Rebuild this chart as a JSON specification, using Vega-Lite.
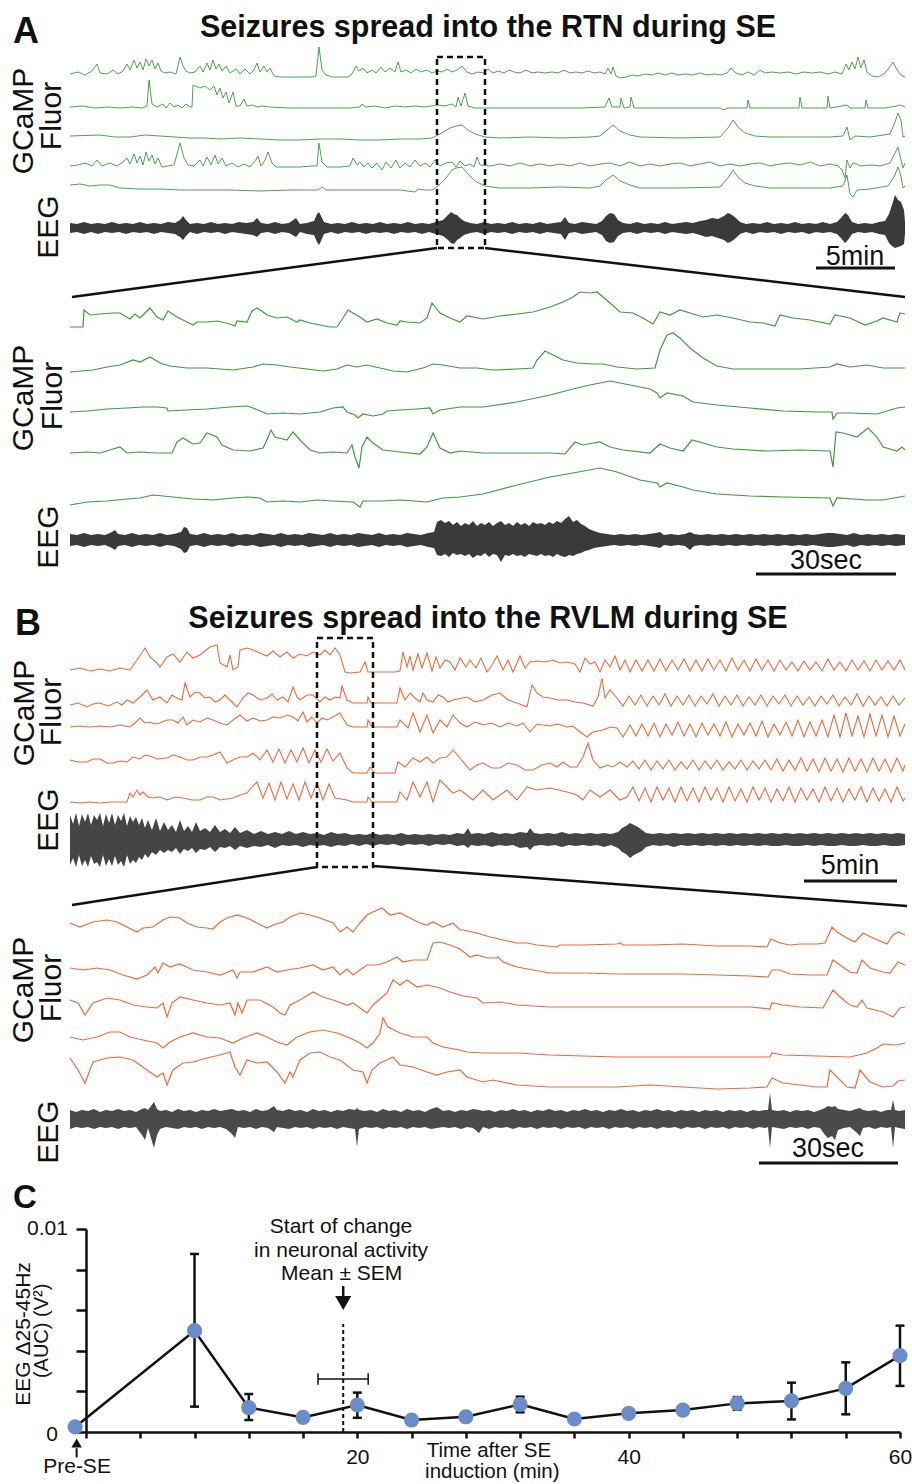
{
"$schema": "https://vega.github.io/schema/vega-lite/v6.json",
"padding": {"left": 9, "top": 0, "right": 0, "bottom": 0},
"spacing": 0,
"bounds": "flush",
"config": {"view": {"stroke": null}, "font": "Liberation Sans"},
"datasets": {
"a1": [
{"k":1,"x":0,"y":226},{"k":1,"x":8,"y":228},{"k":1,"x":15,"y":225},{"k":1,"x":22,"y":229},{"k":1,"x":27,"y":236},{"k":1,"x":30,"y":227},{"k":1,"x":37,"y":226},{"k":1,"x":43,"y":230},{"k":1,"x":48,"y":226},{"k":1,"x":53,"y":229},{"k":1,"x":57,"y":236},{"k":1,"x":60,"y":230},{"k":1,"x":64,"y":240},{"k":1,"x":67,"y":232},{"k":1,"x":70,"y":238},{"k":1,"x":73,"y":230},{"k":1,"x":76,"y":241},{"k":1,"x":79,"y":234},{"k":1,"x":82,"y":240},{"k":1,"x":85,"y":231},{"k":1,"x":88,"y":237},{"k":1,"x":91,"y":229},{"k":1,"x":95,"y":227},{"k":1,"x":100,"y":228},{"k":1,"x":106,"y":226},{"k":1,"x":110,"y":243},{"k":1,"x":113,"y":234},{"k":1,"x":116,"y":229},{"k":1,"x":120,"y":227},{"k":1,"x":125,"y":228},{"k":1,"x":130,"y":234},{"k":1,"x":133,"y":228},{"k":1,"x":137,"y":237},{"k":1,"x":140,"y":230},{"k":1,"x":143,"y":240},{"k":1,"x":146,"y":231},{"k":1,"x":149,"y":236},{"k":1,"x":152,"y":229},{"k":1,"x":156,"y":234},{"k":1,"x":160,"y":227},{"k":1,"x":166,"y":231},{"k":1,"x":170,"y":226},{"k":1,"x":175,"y":231},{"k":1,"x":180,"y":226},{"k":1,"x":184,"y":230},{"k":1,"x":187,"y":237},{"k":1,"x":190,"y":228},{"k":1,"x":194,"y":234},{"k":1,"x":197,"y":228},{"k":1,"x":200,"y":232},{"k":1,"x":204,"y":224},{"k":1,"x":210,"y":223},{"k":1,"x":220,"y":223},{"k":1,"x":230,"y":223},{"k":1,"x":240,"y":223},{"k":1,"x":246,"y":224},{"k":1,"x":249,"y":253},{"k":1,"x":252,"y":230},{"k":1,"x":256,"y":225},{"k":1,"x":262,"y":223},{"k":1,"x":270,"y":223},{"k":1,"x":278,"y":223},{"k":1,"x":282,"y":226},{"k":1,"x":286,"y":234},{"k":1,"x":289,"y":229},{"k":1,"x":293,"y":232},{"k":1,"x":297,"y":227},{"k":1,"x":302,"y":230},{"k":1,"x":306,"y":227},{"k":1,"x":311,"y":233},{"k":1,"x":315,"y":228},{"k":1,"x":320,"y":232},{"k":1,"x":325,"y":228},{"k":1,"x":328,"y":238},{"k":1,"x":331,"y":228},{"k":1,"x":336,"y":230},{"k":1,"x":341,"y":227},{"k":1,"x":346,"y":231},{"k":1,"x":351,"y":228},{"k":1,"x":357,"y":230},{"k":1,"x":362,"y":227},{"k":1,"x":367,"y":229},{"k":1,"x":372,"y":228},{"k":1,"x":377,"y":231},{"k":1,"x":382,"y":228},{"k":1,"x":387,"y":230},{"k":1,"x":392,"y":234},{"k":1,"x":397,"y":228},{"k":1,"x":402,"y":226},{"k":1,"x":408,"y":228},{"k":1,"x":414,"y":227},{"k":1,"x":418,"y":231},{"k":1,"x":423,"y":227},{"k":1,"x":428,"y":229},{"k":1,"x":434,"y":227},{"k":1,"x":439,"y":230},{"k":1,"x":444,"y":228},{"k":1,"x":450,"y":227},{"k":1,"x":456,"y":230},{"k":1,"x":462,"y":227},{"k":1,"x":468,"y":228},{"k":1,"x":475,"y":227},{"k":1,"x":482,"y":228},{"k":1,"x":488,"y":227},{"k":1,"x":494,"y":230},{"k":1,"x":500,"y":227},{"k":1,"x":506,"y":228},{"k":1,"x":512,"y":227},{"k":1,"x":518,"y":229},{"k":1,"x":524,"y":227},{"k":1,"x":530,"y":228},{"k":1,"x":535,"y":226},{"k":1,"x":538,"y":232},{"k":1,"x":541,"y":226},{"k":1,"x":543,"y":233},{"k":1,"x":546,"y":224},{"k":1,"x":550,"y":222},{"k":1,"x":556,"y":223},{"k":1,"x":562,"y":225},{"k":1,"x":568,"y":224},{"k":1,"x":575,"y":226},{"k":1,"x":582,"y":225},{"k":1,"x":588,"y":227},{"k":1,"x":595,"y":225},{"k":1,"x":602,"y":227},{"k":1,"x":608,"y":225},{"k":1,"x":615,"y":226},{"k":1,"x":622,"y":225},{"k":1,"x":630,"y":227},{"k":1,"x":637,"y":225},{"k":1,"x":644,"y":226},{"k":1,"x":651,"y":225},{"k":1,"x":657,"y":227},{"k":1,"x":661,"y":232},{"k":1,"x":666,"y":227},{"k":1,"x":672,"y":225},{"k":1,"x":678,"y":228},{"k":1,"x":684,"y":225},{"k":1,"x":690,"y":230},{"k":1,"x":695,"y":227},{"k":1,"x":702,"y":228},{"k":1,"x":710,"y":227},{"k":1,"x":718,"y":228},{"k":1,"x":726,"y":226},{"k":1,"x":734,"y":228},{"k":1,"x":742,"y":227},{"k":1,"x":750,"y":228},{"k":1,"x":758,"y":226},{"k":1,"x":765,"y":228},{"k":1,"x":772,"y":226},{"k":1,"x":776,"y":236},{"k":1,"x":779,"y":230},{"k":1,"x":782,"y":238},{"k":1,"x":785,"y":231},{"k":1,"x":788,"y":243},{"k":1,"x":791,"y":232},{"k":1,"x":794,"y":240},{"k":1,"x":797,"y":228},{"k":1,"x":802,"y":224},{"k":1,"x":808,"y":223},{"k":1,"x":814,"y":226},{"k":1,"x":819,"y":232},{"k":1,"x":823,"y":238},{"k":1,"x":827,"y":230},{"k":1,"x":831,"y":225},{"k":1,"x":835,"y":223},
{"k":2,"x":0,"y":193},{"k":2,"x":12,"y":194},{"k":2,"x":25,"y":192},{"k":2,"x":38,"y":193},{"k":2,"x":50,"y":192},{"k":2,"x":62,"y":193},{"k":2,"x":72,"y":192},{"k":2,"x":77,"y":194},{"k":2,"x":79,"y":220},{"k":2,"x":82,"y":196},{"k":2,"x":87,"y":193},{"k":2,"x":93,"y":196},{"k":2,"x":96,"y":192},{"k":2,"x":100,"y":197},{"k":2,"x":104,"y":193},{"k":2,"x":108,"y":195},{"k":2,"x":112,"y":192},{"k":2,"x":116,"y":196},{"k":2,"x":120,"y":193},{"k":2,"x":122,"y":193},{"k":2,"x":123,"y":215},{"k":2,"x":130,"y":212},{"k":2,"x":135,"y":214},{"k":2,"x":140,"y":210},{"k":2,"x":144,"y":214},{"k":2,"x":147,"y":205},{"k":2,"x":150,"y":212},{"k":2,"x":153,"y":202},{"k":2,"x":156,"y":208},{"k":2,"x":159,"y":197},{"k":2,"x":163,"y":208},{"k":2,"x":166,"y":194},{"k":2,"x":170,"y":194},{"k":2,"x":174,"y":201},{"k":2,"x":177,"y":194},{"k":2,"x":182,"y":195},{"k":2,"x":188,"y":193},{"k":2,"x":192,"y":194},{"k":2,"x":200,"y":193},{"k":2,"x":220,"y":192},{"k":2,"x":250,"y":192},{"k":2,"x":280,"y":192},{"k":2,"x":290,"y":193},{"k":2,"x":292,"y":196},{"k":2,"x":296,"y":193},{"k":2,"x":305,"y":194},{"k":2,"x":315,"y":192},{"k":2,"x":325,"y":194},{"k":2,"x":335,"y":193},{"k":2,"x":345,"y":194},{"k":2,"x":355,"y":193},{"k":2,"x":367,"y":195},{"k":2,"x":375,"y":194},{"k":2,"x":382,"y":196},{"k":2,"x":386,"y":193},{"k":2,"x":388,"y":203},{"k":2,"x":391,"y":194},{"k":2,"x":395,"y":207},{"k":2,"x":398,"y":194},{"k":2,"x":405,"y":192},{"k":2,"x":430,"y":192},{"k":2,"x":470,"y":192},{"k":2,"x":510,"y":192},{"k":2,"x":535,"y":193},{"k":2,"x":539,"y":202},{"k":2,"x":542,"y":193},{"k":2,"x":550,"y":193},{"k":2,"x":551,"y":202},{"k":2,"x":554,"y":192},{"k":2,"x":560,"y":193},{"k":2,"x":561,"y":203},{"k":2,"x":564,"y":192},{"k":2,"x":610,"y":192},{"k":2,"x":650,"y":192},{"k":2,"x":653,"y":190},{"k":2,"x":658,"y":192},{"k":2,"x":677,"y":192},{"k":2,"x":678,"y":200},{"k":2,"x":680,"y":192},{"k":2,"x":729,"y":192},{"k":2,"x":730,"y":203},{"k":2,"x":732,"y":192},{"k":2,"x":757,"y":192},{"k":2,"x":758,"y":204},{"k":2,"x":760,"y":192},{"k":2,"x":777,"y":195},{"k":2,"x":780,"y":192},{"k":2,"x":795,"y":192},{"k":2,"x":796,"y":200},{"k":2,"x":798,"y":192},{"k":2,"x":815,"y":192},{"k":2,"x":827,"y":194},{"k":2,"x":830,"y":195},{"k":2,"x":835,"y":193},
{"k":3,"x":0,"y":164},{"k":3,"x":30,"y":165},{"k":3,"x":45,"y":163},{"k":3,"x":60,"y":163},{"k":3,"x":75,"y":165},{"k":3,"x":90,"y":164},{"k":3,"x":105,"y":163},{"k":3,"x":120,"y":162},{"k":3,"x":135,"y":162},{"k":3,"x":150,"y":161},{"k":3,"x":170,"y":162},{"k":3,"x":190,"y":161},{"k":3,"x":210,"y":160},{"k":3,"x":230,"y":160},{"k":3,"x":250,"y":161},{"k":3,"x":270,"y":161},{"k":3,"x":290,"y":160},{"k":3,"x":310,"y":160},{"k":3,"x":330,"y":161},{"k":3,"x":350,"y":161},{"k":3,"x":362,"y":162},{"k":3,"x":370,"y":166},{"k":3,"x":380,"y":172},{"k":3,"x":386,"y":174},{"k":3,"x":392,"y":175},{"k":3,"x":398,"y":170},{"k":3,"x":405,"y":166},{"k":3,"x":415,"y":163},{"k":3,"x":430,"y":162},{"k":3,"x":460,"y":163},{"k":3,"x":490,"y":162},{"k":3,"x":520,"y":163},{"k":3,"x":530,"y":164},{"k":3,"x":536,"y":169},{"k":3,"x":543,"y":175},{"k":3,"x":550,"y":169},{"k":3,"x":560,"y":165},{"k":3,"x":570,"y":163},{"k":3,"x":610,"y":162},{"k":3,"x":650,"y":163},{"k":3,"x":658,"y":172},{"k":3,"x":663,"y":180},{"k":3,"x":668,"y":173},{"k":3,"x":675,"y":167},{"k":3,"x":685,"y":164},{"k":3,"x":700,"y":163},{"k":3,"x":730,"y":163},{"k":3,"x":760,"y":163},{"k":3,"x":773,"y":164},{"k":3,"x":777,"y":173},{"k":3,"x":780,"y":160},{"k":3,"x":785,"y":164},{"k":3,"x":800,"y":163},{"k":3,"x":820,"y":166},{"k":3,"x":825,"y":178},{"k":3,"x":828,"y":187},{"k":3,"x":831,"y":180},{"k":3,"x":833,"y":163},{"k":3,"x":835,"y":164},
{"k":4,"x":0,"y":134},{"k":4,"x":8,"y":135},{"k":4,"x":15,"y":137},{"k":4,"x":22,"y":134},{"k":4,"x":27,"y":140},{"k":4,"x":32,"y":134},{"k":4,"x":40,"y":137},{"k":4,"x":47,"y":134},{"k":4,"x":53,"y":138},{"k":4,"x":57,"y":142},{"k":4,"x":60,"y":136},{"k":4,"x":64,"y":146},{"k":4,"x":67,"y":137},{"k":4,"x":70,"y":144},{"k":4,"x":73,"y":135},{"k":4,"x":76,"y":148},{"k":4,"x":79,"y":139},{"k":4,"x":82,"y":145},{"k":4,"x":85,"y":136},{"k":4,"x":88,"y":142},{"k":4,"x":92,"y":133},{"k":4,"x":98,"y":134},{"k":4,"x":104,"y":135},{"k":4,"x":110,"y":157},{"k":4,"x":114,"y":142},{"k":4,"x":118,"y":135},{"k":4,"x":124,"y":134},{"k":4,"x":130,"y":140},{"k":4,"x":133,"y":134},{"k":4,"x":137,"y":143},{"k":4,"x":141,"y":135},{"k":4,"x":145,"y":145},{"k":4,"x":148,"y":136},{"k":4,"x":152,"y":142},{"k":4,"x":156,"y":134},{"k":4,"x":162,"y":137},{"k":4,"x":168,"y":133},{"k":4,"x":174,"y":136},{"k":4,"x":180,"y":133},{"k":4,"x":185,"y":139},{"k":4,"x":188,"y":144},{"k":4,"x":191,"y":134},{"k":4,"x":195,"y":140},{"k":4,"x":198,"y":148},{"k":4,"x":202,"y":137},{"k":4,"x":206,"y":133},{"k":4,"x":215,"y":133},{"k":4,"x":230,"y":133},{"k":4,"x":242,"y":134},{"k":4,"x":247,"y":134},{"k":4,"x":249,"y":157},{"k":4,"x":252,"y":138},{"k":4,"x":257,"y":133},{"k":4,"x":270,"y":133},{"k":4,"x":280,"y":134},{"k":4,"x":283,"y":142},{"k":4,"x":287,"y":135},{"k":4,"x":290,"y":138},{"k":4,"x":294,"y":133},{"k":4,"x":298,"y":137},{"k":4,"x":302,"y":132},{"k":4,"x":307,"y":137},{"k":4,"x":312,"y":130},{"k":4,"x":316,"y":138},{"k":4,"x":321,"y":132},{"k":4,"x":326,"y":140},{"k":4,"x":330,"y":132},{"k":4,"x":335,"y":137},{"k":4,"x":340,"y":133},{"k":4,"x":345,"y":140},{"k":4,"x":350,"y":134},{"k":4,"x":355,"y":137},{"k":4,"x":360,"y":133},{"k":4,"x":365,"y":140},{"k":4,"x":370,"y":134},{"k":4,"x":376,"y":137},{"k":4,"x":382,"y":138},{"k":4,"x":386,"y":133},{"k":4,"x":390,"y":139},{"k":4,"x":395,"y":134},{"k":4,"x":400,"y":136},{"k":4,"x":404,"y":133},{"k":4,"x":407,"y":143},{"k":4,"x":410,"y":135},{"k":4,"x":420,"y":134},{"k":4,"x":430,"y":136},{"k":4,"x":440,"y":134},{"k":4,"x":450,"y":137},{"k":4,"x":460,"y":134},{"k":4,"x":470,"y":136},{"k":4,"x":480,"y":134},{"k":4,"x":490,"y":136},{"k":4,"x":500,"y":134},{"k":4,"x":510,"y":137},{"k":4,"x":520,"y":134},{"k":4,"x":530,"y":136},{"k":4,"x":540,"y":137},{"k":4,"x":550,"y":134},{"k":4,"x":560,"y":138},{"k":4,"x":570,"y":134},{"k":4,"x":580,"y":136},{"k":4,"x":590,"y":134},{"k":4,"x":600,"y":136},{"k":4,"x":610,"y":137},{"k":4,"x":620,"y":134},{"k":4,"x":630,"y":136},{"k":4,"x":640,"y":138},{"k":4,"x":650,"y":134},{"k":4,"x":660,"y":136},{"k":4,"x":670,"y":134},{"k":4,"x":680,"y":136},{"k":4,"x":690,"y":137},{"k":4,"x":700,"y":134},{"k":4,"x":710,"y":136},{"k":4,"x":720,"y":137},{"k":4,"x":730,"y":135},{"k":4,"x":740,"y":138},{"k":4,"x":750,"y":134},{"k":4,"x":760,"y":136},{"k":4,"x":768,"y":134},{"k":4,"x":772,"y":130},{"k":4,"x":775,"y":122},{"k":4,"x":777,"y":140},{"k":4,"x":780,"y":132},{"k":4,"x":783,"y":137},{"k":4,"x":787,"y":136},{"k":4,"x":790,"y":134},{"k":4,"x":800,"y":135},{"k":4,"x":810,"y":134},{"k":4,"x":820,"y":137},{"k":4,"x":825,"y":147},{"k":4,"x":828,"y":153},{"k":4,"x":831,"y":140},{"k":4,"x":833,"y":132},{"k":4,"x":835,"y":137},
{"k":5,"x":0,"y":115},{"k":5,"x":10,"y":116},{"k":5,"x":20,"y":114},{"k":5,"x":30,"y":115},{"k":5,"x":40,"y":115},{"k":5,"x":50,"y":112},{"k":5,"x":70,"y":111},{"k":5,"x":90,"y":111},{"k":5,"x":110,"y":110},{"k":5,"x":130,"y":110},{"k":5,"x":160,"y":110},{"k":5,"x":190,"y":109},{"k":5,"x":220,"y":110},{"k":5,"x":240,"y":110},{"k":5,"x":248,"y":110},{"k":5,"x":252,"y":113},{"k":5,"x":256,"y":110},{"k":5,"x":270,"y":110},{"k":5,"x":300,"y":110},{"k":5,"x":330,"y":110},{"k":5,"x":345,"y":108},{"k":5,"x":348,"y":111},{"k":5,"x":355,"y":110},{"k":5,"x":362,"y":110},{"k":5,"x":368,"y":114},{"k":5,"x":376,"y":122},{"k":5,"x":382,"y":130},{"k":5,"x":386,"y":132},{"k":5,"x":392,"y":133},{"k":5,"x":398,"y":126},{"k":5,"x":405,"y":119},{"k":5,"x":415,"y":114},{"k":5,"x":430,"y":112},{"k":5,"x":460,"y":112},{"k":5,"x":490,"y":113},{"k":5,"x":520,"y":112},{"k":5,"x":530,"y":114},{"k":5,"x":536,"y":120},{"k":5,"x":543,"y":125},{"k":5,"x":550,"y":119},{"k":5,"x":560,"y":115},{"k":5,"x":570,"y":112},{"k":5,"x":610,"y":112},{"k":5,"x":650,"y":113},{"k":5,"x":658,"y":122},{"k":5,"x":663,"y":130},{"k":5,"x":668,"y":123},{"k":5,"x":675,"y":117},{"k":5,"x":685,"y":114},{"k":5,"x":700,"y":112},{"k":5,"x":730,"y":112},{"k":5,"x":760,"y":112},{"k":5,"x":773,"y":114},{"k":5,"x":777,"y":125},{"k":5,"x":780,"y":106},{"k":5,"x":783,"y":103},{"k":5,"x":787,"y":110},{"k":5,"x":800,"y":111},{"k":5,"x":818,"y":114},{"k":5,"x":825,"y":125},{"k":5,"x":828,"y":133},{"k":5,"x":831,"y":124},{"k":5,"x":833,"y":112},{"k":5,"x":835,"y":114}
],
"a1e": [
{"x":0,"h":77,"l":67},{"x":7,"h":76,"l":68},{"x":14,"h":78,"l":66},{"x":21,"h":76,"l":68},{"x":28,"h":77,"l":66},{"x":35,"h":76,"l":68},{"x":42,"h":78,"l":67},{"x":49,"h":76,"l":68},{"x":56,"h":77,"l":66},{"x":63,"h":76,"l":68},{"x":70,"h":78,"l":67},{"x":77,"h":76,"l":68},{"x":84,"h":77,"l":66},{"x":91,"h":76,"l":68},{"x":98,"h":78,"l":67},{"x":105,"h":77,"l":66},{"x":110,"h":80,"l":63},{"x":113,"h":84,"l":60},{"x":116,"h":80,"l":64},{"x":120,"h":76,"l":68},{"x":127,"h":77,"l":66},{"x":134,"h":76,"l":68},{"x":141,"h":78,"l":67},{"x":148,"h":76,"l":68},{"x":155,"h":77,"l":66},{"x":162,"h":76,"l":68},{"x":169,"h":78,"l":67},{"x":176,"h":77,"l":66},{"x":183,"h":78,"l":65},{"x":187,"h":82,"l":63},{"x":191,"h":77,"l":67},{"x":198,"h":76,"l":68},{"x":205,"h":78,"l":66},{"x":212,"h":76,"l":68},{"x":219,"h":77,"l":67},{"x":226,"h":82,"l":63},{"x":230,"h":76,"l":68},{"x":237,"h":77,"l":66},{"x":244,"h":79,"l":65},{"x":247,"h":86,"l":58},{"x":249,"h":88,"l":55},{"x":251,"h":84,"l":59},{"x":254,"h":78,"l":66},{"x":261,"h":76,"l":68},{"x":268,"h":77,"l":66},{"x":275,"h":76,"l":68},{"x":282,"h":78,"l":67},{"x":289,"h":76,"l":68},{"x":296,"h":77,"l":66},{"x":303,"h":76,"l":68},{"x":310,"h":78,"l":67},{"x":317,"h":76,"l":68},{"x":324,"h":77,"l":66},{"x":331,"h":76,"l":68},{"x":338,"h":78,"l":67},{"x":345,"h":76,"l":68},{"x":352,"h":77,"l":66},{"x":359,"h":76,"l":68},{"x":366,"h":78,"l":66},{"x":373,"h":80,"l":64},{"x":378,"h":85,"l":60},{"x":381,"h":88,"l":57},{"x":384,"h":86,"l":56},{"x":387,"h":85,"l":60},{"x":390,"h":82,"l":62},{"x":394,"h":79,"l":65},{"x":400,"h":77,"l":67},{"x":407,"h":76,"l":68},{"x":414,"h":78,"l":66},{"x":421,"h":76,"l":68},{"x":428,"h":77,"l":67},{"x":435,"h":76,"l":68},{"x":442,"h":78,"l":66},{"x":449,"h":76,"l":68},{"x":456,"h":77,"l":67},{"x":463,"h":76,"l":68},{"x":470,"h":78,"l":66},{"x":477,"h":76,"l":68},{"x":484,"h":77,"l":67},{"x":491,"h":78,"l":66},{"x":495,"h":83,"l":60},{"x":499,"h":77,"l":67},{"x":505,"h":76,"l":68},{"x":512,"h":78,"l":66},{"x":519,"h":77,"l":67},{"x":526,"h":76,"l":68},{"x":532,"h":79,"l":65},{"x":536,"h":84,"l":59},{"x":540,"h":87,"l":57},{"x":544,"h":86,"l":58},{"x":548,"h":80,"l":64},{"x":553,"h":77,"l":67},{"x":560,"h":76,"l":68},{"x":567,"h":78,"l":66},{"x":574,"h":76,"l":68},{"x":581,"h":77,"l":67},{"x":588,"h":76,"l":68},{"x":595,"h":78,"l":66},{"x":602,"h":76,"l":68},{"x":609,"h":77,"l":67},{"x":616,"h":78,"l":66},{"x":623,"h":77,"l":67},{"x":630,"h":79,"l":65},{"x":636,"h":80,"l":63},{"x":642,"h":82,"l":64},{"x":648,"h":81,"l":62},{"x":654,"h":84,"l":60},{"x":658,"h":87,"l":57},{"x":662,"h":85,"l":59},{"x":666,"h":82,"l":62},{"x":670,"h":78,"l":66},{"x":676,"h":76,"l":68},{"x":683,"h":77,"l":66},{"x":690,"h":76,"l":68},{"x":697,"h":78,"l":67},{"x":704,"h":76,"l":68},{"x":711,"h":77,"l":66},{"x":718,"h":76,"l":68},{"x":725,"h":78,"l":67},{"x":732,"h":76,"l":68},{"x":739,"h":77,"l":66},{"x":746,"h":76,"l":68},{"x":753,"h":78,"l":67},{"x":760,"h":76,"l":68},{"x":767,"h":78,"l":66},{"x":771,"h":82,"l":62},{"x":775,"h":87,"l":57},{"x":778,"h":85,"l":60},{"x":782,"h":78,"l":66},{"x":788,"h":76,"l":68},{"x":795,"h":77,"l":67},{"x":802,"h":76,"l":68},{"x":809,"h":78,"l":66},{"x":815,"h":79,"l":65},{"x":819,"h":86,"l":57},{"x":822,"h":95,"l":54},{"x":825,"h":105,"l":52},{"x":828,"h":100,"l":53},{"x":831,"h":98,"l":54},{"x":834,"h":90,"l":56},{"x":835,"h":78,"l":66}
],
"a2": [
{"k":1,"x":0,"y":273},{"k":1,"x":13,"y":273},{"k":1,"x":14,"y":290},{"k":1,"x":20,"y":285},{"k":1,"x":30,"y":286},{"k":1,"x":43,"y":287},{"k":1,"x":50,"y":287},{"k":1,"x":60,"y":281},{"k":1,"x":65,"y":286},{"k":1,"x":70,"y":282},{"k":1,"x":80,"y":292},{"k":1,"x":87,"y":283},{"k":1,"x":93,"y":280},{"k":1,"x":98,"y":289},{"k":1,"x":107,"y":283},{"k":1,"x":117,"y":278},{"k":1,"x":123,"y":275},{"k":1,"x":127,"y":278},{"k":1,"x":137,"y":278},{"k":1,"x":147,"y":279},{"k":1,"x":160,"y":276},{"k":1,"x":165,"y":274},{"k":1,"x":167,"y":279},{"k":1,"x":177,"y":278},{"k":1,"x":182,"y":289},{"k":1,"x":187,"y":292},{"k":1,"x":193,"y":288},{"k":1,"x":197,"y":285},{"k":1,"x":207,"y":282},{"k":1,"x":217,"y":283},{"k":1,"x":227,"y":278},{"k":1,"x":230,"y":280},{"k":1,"x":240,"y":277},{"k":1,"x":250,"y":275},{"k":1,"x":260,"y":273},{"k":1,"x":267,"y":273},{"k":1,"x":273,"y":282},{"k":1,"x":278,"y":290},{"k":1,"x":283,"y":287},{"k":1,"x":290,"y":283},{"k":1,"x":297,"y":278},{"k":1,"x":307,"y":281},{"k":1,"x":317,"y":277},{"k":1,"x":327,"y":275},{"k":1,"x":330,"y":279},{"k":1,"x":337,"y":278},{"k":1,"x":350,"y":277},{"k":1,"x":357,"y":282},{"k":1,"x":362,"y":297},{"k":1,"x":370,"y":287},{"k":1,"x":380,"y":282},{"k":1,"x":390,"y":278},{"k":1,"x":397,"y":284},{"k":1,"x":413,"y":281},{"k":1,"x":430,"y":284},{"k":1,"x":447,"y":286},{"k":1,"x":463,"y":288},{"k":1,"x":480,"y":293},{"k":1,"x":493,"y":298},{"k":1,"x":503,"y":303},{"k":1,"x":510,"y":308},{"k":1,"x":520,"y":307},{"k":1,"x":527,"y":308},{"k":1,"x":533,"y":303},{"k":1,"x":540,"y":297},{"k":1,"x":550,"y":288},{"k":1,"x":563,"y":287},{"k":1,"x":573,"y":282},{"k":1,"x":583,"y":276},{"k":1,"x":590,"y":288},{"k":1,"x":600,"y":285},{"k":1,"x":610,"y":290},{"k":1,"x":620,"y":287},{"k":1,"x":633,"y":283},{"k":1,"x":647,"y":285},{"k":1,"x":663,"y":282},{"k":1,"x":680,"y":278},{"k":1,"x":693,"y":277},{"k":1,"x":705,"y":274},{"k":1,"x":710,"y":285},{"k":1,"x":723,"y":282},{"k":1,"x":740,"y":280},{"k":1,"x":760,"y":276},{"k":1,"x":765,"y":285},{"k":1,"x":780,"y":282},{"k":1,"x":795,"y":275},{"k":1,"x":807,"y":279},{"k":1,"x":813,"y":282},{"k":1,"x":827,"y":278},{"k":1,"x":830,"y":287},{"k":1,"x":835,"y":286},
{"k":2,"x":0,"y":228},{"k":2,"x":23,"y":230},{"k":2,"x":37,"y":233},{"k":2,"x":50,"y":235},{"k":2,"x":63,"y":240},{"k":2,"x":70,"y":238},{"k":2,"x":80,"y":243},{"k":2,"x":90,"y":237},{"k":2,"x":100,"y":234},{"k":2,"x":117,"y":232},{"k":2,"x":137,"y":232},{"k":2,"x":150,"y":231},{"k":2,"x":163,"y":230},{"k":2,"x":183,"y":233},{"k":2,"x":193,"y":236},{"k":2,"x":207,"y":235},{"k":2,"x":220,"y":233},{"k":2,"x":237,"y":231},{"k":2,"x":253,"y":229},{"k":2,"x":267,"y":231},{"k":2,"x":277,"y":235},{"k":2,"x":287,"y":233},{"k":2,"x":297,"y":235},{"k":2,"x":310,"y":232},{"k":2,"x":323,"y":229},{"k":2,"x":337,"y":228},{"k":2,"x":353,"y":232},{"k":2,"x":363,"y":236},{"k":2,"x":373,"y":235},{"k":2,"x":390,"y":232},{"k":2,"x":407,"y":232},{"k":2,"x":423,"y":230},{"k":2,"x":447,"y":231},{"k":2,"x":463,"y":232},{"k":2,"x":467,"y":240},{"k":2,"x":475,"y":249},{"k":2,"x":483,"y":245},{"k":2,"x":493,"y":240},{"k":2,"x":507,"y":237},{"k":2,"x":523,"y":236},{"k":2,"x":533,"y":236},{"k":2,"x":547,"y":233},{"k":2,"x":567,"y":231},{"k":2,"x":585,"y":232},{"k":2,"x":590,"y":250},{"k":2,"x":597,"y":265},{"k":2,"x":603,"y":267},{"k":2,"x":610,"y":262},{"k":2,"x":620,"y":252},{"k":2,"x":633,"y":242},{"k":2,"x":647,"y":234},{"k":2,"x":663,"y":231},{"k":2,"x":697,"y":231},{"k":2,"x":730,"y":231},{"k":2,"x":760,"y":233},{"k":2,"x":767,"y":236},{"k":2,"x":780,"y":233},{"k":2,"x":797,"y":235},{"k":2,"x":813,"y":232},{"k":2,"x":835,"y":232},
{"k":3,"x":0,"y":188},{"k":3,"x":17,"y":189},{"k":3,"x":37,"y":191},{"k":3,"x":57,"y":192},{"k":3,"x":73,"y":193},{"k":3,"x":87,"y":193},{"k":3,"x":97,"y":192},{"k":3,"x":98,"y":189},{"k":3,"x":117,"y":190},{"k":3,"x":137,"y":191},{"k":3,"x":160,"y":193},{"k":3,"x":177,"y":194},{"k":3,"x":183,"y":192},{"k":3,"x":197,"y":186},{"k":3,"x":213,"y":187},{"k":3,"x":230,"y":186},{"k":3,"x":250,"y":188},{"k":3,"x":263,"y":192},{"k":3,"x":273,"y":193},{"k":3,"x":277,"y":188},{"k":3,"x":285,"y":185},{"k":3,"x":288,"y":182},{"k":3,"x":293,"y":186},{"k":3,"x":303,"y":184},{"k":3,"x":313,"y":186},{"k":3,"x":317,"y":189},{"k":3,"x":330,"y":190},{"k":3,"x":347,"y":191},{"k":3,"x":360,"y":192},{"k":3,"x":363,"y":186},{"k":3,"x":370,"y":190},{"k":3,"x":390,"y":193},{"k":3,"x":413,"y":193},{"k":3,"x":447,"y":198},{"k":3,"x":480,"y":205},{"k":3,"x":503,"y":211},{"k":3,"x":520,"y":215},{"k":3,"x":540,"y":219},{"k":3,"x":560,"y":215},{"k":3,"x":580,"y":211},{"k":3,"x":587,"y":207},{"k":3,"x":590,"y":202},{"k":3,"x":597,"y":207},{"k":3,"x":613,"y":204},{"k":3,"x":623,"y":198},{"k":3,"x":647,"y":195},{"k":3,"x":680,"y":192},{"k":3,"x":713,"y":189},{"k":3,"x":747,"y":188},{"k":3,"x":762,"y":188},{"k":3,"x":763,"y":181},{"k":3,"x":767,"y":187},{"k":3,"x":780,"y":187},{"k":3,"x":807,"y":186},{"k":3,"x":827,"y":192},{"k":3,"x":835,"y":193},
{"k":4,"x":0,"y":147},{"k":4,"x":17,"y":148},{"k":4,"x":30,"y":147},{"k":4,"x":43,"y":151},{"k":4,"x":50,"y":153},{"k":4,"x":57,"y":147},{"k":4,"x":70,"y":148},{"k":4,"x":87,"y":147},{"k":4,"x":102,"y":147},{"k":4,"x":107,"y":158},{"k":4,"x":113,"y":162},{"k":4,"x":123,"y":156},{"k":4,"x":130,"y":157},{"k":4,"x":137,"y":167},{"k":4,"x":147,"y":163},{"k":4,"x":152,"y":155},{"k":4,"x":163,"y":150},{"k":4,"x":180,"y":149},{"k":4,"x":193,"y":152},{"k":4,"x":196,"y":158},{"k":4,"x":201,"y":170},{"k":4,"x":205,"y":163},{"k":4,"x":217,"y":160},{"k":4,"x":223,"y":168},{"k":4,"x":230,"y":160},{"k":4,"x":240,"y":150},{"k":4,"x":250,"y":147},{"k":4,"x":263,"y":148},{"k":4,"x":277,"y":147},{"k":4,"x":282,"y":155},{"k":4,"x":285,"y":143},{"k":4,"x":289,"y":132},{"k":4,"x":292,"y":153},{"k":4,"x":297,"y":163},{"k":4,"x":303,"y":157},{"k":4,"x":313,"y":150},{"k":4,"x":330,"y":148},{"k":4,"x":350,"y":146},{"k":4,"x":357,"y":153},{"k":4,"x":363,"y":167},{"k":4,"x":370,"y":152},{"k":4,"x":380,"y":147},{"k":4,"x":390,"y":149},{"k":4,"x":413,"y":147},{"k":4,"x":447,"y":147},{"k":4,"x":480,"y":147},{"k":4,"x":495,"y":146},{"k":4,"x":505,"y":158},{"k":4,"x":513,"y":155},{"k":4,"x":530,"y":158},{"k":4,"x":540,"y":153},{"k":4,"x":553,"y":150},{"k":4,"x":580,"y":147},{"k":4,"x":590,"y":156},{"k":4,"x":600,"y":152},{"k":4,"x":613,"y":149},{"k":4,"x":622,"y":160},{"k":4,"x":633,"y":157},{"k":4,"x":647,"y":153},{"k":4,"x":663,"y":151},{"k":4,"x":697,"y":149},{"k":4,"x":730,"y":150},{"k":4,"x":760,"y":149},{"k":4,"x":763,"y":133},{"k":4,"x":766,"y":168},{"k":4,"x":773,"y":167},{"k":4,"x":787,"y":163},{"k":4,"x":798,"y":172},{"k":4,"x":807,"y":163},{"k":4,"x":813,"y":153},{"k":4,"x":827,"y":149},{"k":4,"x":832,"y":153},{"k":4,"x":835,"y":150},
{"k":5,"x":0,"y":95},{"k":5,"x":17,"y":98},{"k":5,"x":37,"y":99},{"k":5,"x":57,"y":101},{"k":5,"x":70,"y":102},{"k":5,"x":83,"y":105},{"k":5,"x":103,"y":103},{"k":5,"x":123,"y":101},{"k":5,"x":143,"y":100},{"k":5,"x":163,"y":102},{"k":5,"x":177,"y":103},{"k":5,"x":190,"y":102},{"k":5,"x":197,"y":98},{"k":5,"x":213,"y":99},{"k":5,"x":230,"y":98},{"k":5,"x":247,"y":100},{"k":5,"x":263,"y":99},{"k":5,"x":283,"y":98},{"k":5,"x":290,"y":93},{"k":5,"x":293,"y":99},{"k":5,"x":313,"y":99},{"k":5,"x":330,"y":100},{"k":5,"x":357,"y":98},{"k":5,"x":373,"y":102},{"k":5,"x":390,"y":103},{"k":5,"x":413,"y":106},{"k":5,"x":447,"y":115},{"k":5,"x":480,"y":123},{"k":5,"x":503,"y":127},{"k":5,"x":530,"y":132},{"k":5,"x":547,"y":128},{"k":5,"x":570,"y":120},{"k":5,"x":587,"y":117},{"k":5,"x":590,"y":113},{"k":5,"x":597,"y":117},{"k":5,"x":613,"y":113},{"k":5,"x":623,"y":110},{"k":5,"x":647,"y":106},{"k":5,"x":680,"y":104},{"k":5,"x":713,"y":103},{"k":5,"x":760,"y":102},{"k":5,"x":763,"y":94},{"k":5,"x":767,"y":102},{"k":5,"x":797,"y":100},{"k":5,"x":813,"y":100},{"k":5,"x":835,"y":104}
],
"a2e": [
{"x":0,"h":66,"l":54},{"x":7,"h":65,"l":55},{"x":14,"h":67,"l":53},{"x":21,"h":65,"l":55},{"x":28,"h":66,"l":54},{"x":35,"h":65,"l":55},{"x":42,"h":68,"l":52},{"x":45,"h":70,"l":50},{"x":48,"h":66,"l":54},{"x":55,"h":65,"l":55},{"x":62,"h":67,"l":53},{"x":69,"h":65,"l":55},{"x":76,"h":66,"l":54},{"x":83,"h":65,"l":55},{"x":90,"h":67,"l":53},{"x":97,"h":65,"l":55},{"x":104,"h":66,"l":54},{"x":111,"h":68,"l":51},{"x":114,"h":73,"l":47},{"x":117,"h":72,"l":48},{"x":120,"h":66,"l":54},{"x":127,"h":65,"l":55},{"x":134,"h":67,"l":53},{"x":141,"h":65,"l":55},{"x":148,"h":66,"l":54},{"x":155,"h":65,"l":55},{"x":162,"h":67,"l":53},{"x":169,"h":65,"l":55},{"x":176,"h":66,"l":54},{"x":183,"h":65,"l":55},{"x":190,"h":67,"l":53},{"x":197,"h":66,"l":54},{"x":204,"h":65,"l":55},{"x":211,"h":67,"l":53},{"x":218,"h":65,"l":55},{"x":225,"h":66,"l":54},{"x":232,"h":65,"l":55},{"x":239,"h":67,"l":53},{"x":246,"h":66,"l":54},{"x":253,"h":65,"l":55},{"x":260,"h":67,"l":53},{"x":267,"h":65,"l":55},{"x":274,"h":66,"l":54},{"x":281,"h":65,"l":55},{"x":288,"h":67,"l":53},{"x":295,"h":66,"l":54},{"x":302,"h":65,"l":55},{"x":309,"h":67,"l":53},{"x":316,"h":65,"l":55},{"x":323,"h":66,"l":54},{"x":330,"h":65,"l":55},{"x":337,"h":67,"l":53},{"x":344,"h":66,"l":54},{"x":351,"h":65,"l":55},{"x":358,"h":67,"l":53},{"x":364,"h":68,"l":52},{"x":367,"h":78,"l":45},{"x":371,"h":80,"l":44},{"x":375,"h":77,"l":46},{"x":379,"h":79,"l":43},{"x":383,"h":75,"l":47},{"x":387,"h":78,"l":45},{"x":391,"h":74,"l":46},{"x":395,"h":77,"l":44},{"x":399,"h":75,"l":46},{"x":403,"h":79,"l":42},{"x":407,"h":74,"l":45},{"x":411,"h":77,"l":44},{"x":415,"h":75,"l":47},{"x":419,"h":78,"l":43},{"x":423,"h":74,"l":46},{"x":427,"h":77,"l":45},{"x":431,"h":79,"l":38},{"x":435,"h":75,"l":45},{"x":439,"h":77,"l":44},{"x":443,"h":74,"l":46},{"x":447,"h":78,"l":44},{"x":451,"h":75,"l":45},{"x":455,"h":77,"l":43},{"x":459,"h":74,"l":46},{"x":463,"h":78,"l":45},{"x":467,"h":76,"l":44},{"x":471,"h":77,"l":46},{"x":475,"h":75,"l":44},{"x":479,"h":78,"l":45},{"x":483,"h":76,"l":43},{"x":487,"h":79,"l":46},{"x":491,"h":77,"l":44},{"x":495,"h":81,"l":43},{"x":499,"h":84,"l":45},{"x":503,"h":78,"l":44},{"x":507,"h":80,"l":46},{"x":511,"h":76,"l":47},{"x":515,"h":74,"l":49},{"x":519,"h":71,"l":50},{"x":524,"h":69,"l":52},{"x":530,"h":67,"l":53},{"x":537,"h":66,"l":54},{"x":544,"h":65,"l":55},{"x":551,"h":66,"l":54},{"x":558,"h":65,"l":55},{"x":565,"h":66,"l":54},{"x":572,"h":65,"l":55},{"x":579,"h":66,"l":54},{"x":586,"h":67,"l":53},{"x":590,"h":68,"l":52},{"x":594,"h":65,"l":55},{"x":601,"h":66,"l":54},{"x":608,"h":65,"l":55},{"x":615,"h":66,"l":54},{"x":620,"h":68,"l":50},{"x":624,"h":66,"l":54},{"x":631,"h":65,"l":55},{"x":638,"h":66,"l":54},{"x":645,"h":65,"l":55},{"x":652,"h":66,"l":54},{"x":659,"h":65,"l":55},{"x":666,"h":66,"l":54},{"x":673,"h":65,"l":55},{"x":680,"h":66,"l":54},{"x":687,"h":65,"l":55},{"x":694,"h":66,"l":54},{"x":701,"h":65,"l":55},{"x":708,"h":66,"l":54},{"x":715,"h":65,"l":55},{"x":722,"h":66,"l":54},{"x":729,"h":65,"l":55},{"x":736,"h":66,"l":54},{"x":743,"h":65,"l":55},{"x":750,"h":66,"l":54},{"x":757,"h":67,"l":53},{"x":763,"h":67,"l":53},{"x":770,"h":66,"l":54},{"x":777,"h":65,"l":55},{"x":784,"h":67,"l":53},{"x":791,"h":65,"l":55},{"x":798,"h":66,"l":54},{"x":805,"h":65,"l":55},{"x":812,"h":66,"l":54},{"x":819,"h":65,"l":55},{"x":826,"h":66,"l":54},{"x":835,"h":65,"l":55}
],
"b1": [
{"k":1,"x":0,"y":240},{"k":1,"x":10,"y":242},{"k":1,"x":20,"y":239},{"k":1,"x":30,"y":241},{"k":1,"x":40,"y":239},{"k":1,"x":50,"y":242},{"k":1,"x":60,"y":240},{"k":1,"x":67,"y":250},{"k":1,"x":75,"y":262},{"k":1,"x":80,"y":253},{"k":1,"x":87,"y":247},{"k":1,"x":90,"y":243},{"k":1,"x":97,"y":253},{"k":1,"x":103,"y":256},{"k":1,"x":110,"y":248},{"k":1,"x":117,"y":258},{"k":1,"x":123,"y":252},{"k":1,"x":130,"y":255},{"k":1,"x":140,"y":263},{"k":1,"x":147,"y":265},{"k":1,"x":150,"y":247},{"k":1,"x":157,"y":243},{"k":1,"x":160,"y":255},{"k":1,"x":163,"y":240},{"k":1,"x":168,"y":243},{"k":1,"x":170,"y":260},{"k":1,"x":177,"y":262},{"k":1,"x":183,"y":260},{"k":1,"x":190,"y":257},{"k":1,"x":197,"y":254},{"k":1,"x":203,"y":259},{"k":1,"x":210,"y":253},{"k":1,"x":217,"y":258},{"k":1,"x":223,"y":252},{"k":1,"x":230,"y":256},{"k":1,"x":237,"y":254},{"k":1,"x":243,"y":258},{"k":1,"x":250,"y":255},{"k":1,"x":255,"y":260},{"k":1,"x":260,"y":255},{"k":1,"x":265,"y":262},{"k":1,"x":270,"y":255},{"k":1,"x":275,"y":238},{"k":1,"x":280,"y":237},{"k":1,"x":290,"y":238},{"k":1,"x":295,"y":248},{"k":1,"x":298,"y":238},{"k":1,"x":305,"y":238},{"k":1,"x":315,"y":238},{"k":1,"x":325,"y":238},{"k":1,"x":330,"y":239},{"k":1,"x":333,"y":258},{"k":1,"x":337,"y":243},{"k":1,"x":340,"y":254},{"k":1,"x":343,"y":240},{"k":1,"x":348,"y":256},{"k":1,"x":352,"y":242},{"k":1,"x":357,"y":257},{"k":1,"x":362,"y":239},{"k":1,"x":366,"y":253},{"k":1,"x":370,"y":242},{"k":1,"x":375,"y":250},{"k":1,"x":380,"y":248},{"k":1,"x":385,"y":240},{"k":1,"x":390,"y":252},{"k":1,"x":396,"y":243},{"k":1,"x":400,"y":250},{"k":1,"x":406,"y":242},{"k":1,"x":411,"y":252},{"k":1,"x":417,"y":238},{"k":1,"x":422,"y":245},{"k":1,"x":427,"y":254},{"k":1,"x":433,"y":240},{"k":1,"x":438,"y":250},{"k":1,"x":443,"y":238},{"k":1,"x":450,"y":254},{"k":1,"x":455,"y":242},{"k":1,"x":460,"y":248},{"k":1,"x":467,"y":249},{"k":1,"x":475,"y":248},{"k":1,"x":483,"y":250},{"k":1,"x":490,"y":247},{"k":1,"x":497,"y":248},{"k":1,"x":505,"y":246},{"k":1,"x":510,"y":238},{"k":1,"x":515,"y":252},{"k":1,"x":520,"y":246},{"k":1,"x":525,"y":248},{"k":1,"x":530,"y":238},{"k":1,"x":535,"y":250},{"k":1,"x":540,"y":243},{"k":1,"x":545,"y":254},{"k":1,"x":550,"y":240},{"k":1,"x":555,"y":250},{"k":1,"x":560,"y":238},{"k":1,"x":566,"y":250},{"k":1,"x":572,"y":239},{"k":1,"x":578,"y":250},{"k":1,"x":584,"y":239},{"k":1,"x":590,"y":251},{"k":1,"x":596,"y":239},{"k":1,"x":602,"y":250},{"k":1,"x":608,"y":240},{"k":1,"x":614,"y":251},{"k":1,"x":620,"y":239},{"k":1,"x":626,"y":250},{"k":1,"x":632,"y":239},{"k":1,"x":638,"y":251},{"k":1,"x":644,"y":240},{"k":1,"x":650,"y":250},{"k":1,"x":656,"y":239},{"k":1,"x":662,"y":252},{"k":1,"x":668,"y":240},{"k":1,"x":674,"y":250},{"k":1,"x":680,"y":239},{"k":1,"x":686,"y":251},{"k":1,"x":692,"y":240},{"k":1,"x":698,"y":250},{"k":1,"x":704,"y":239},{"k":1,"x":710,"y":250},{"k":1,"x":716,"y":240},{"k":1,"x":722,"y":248},{"k":1,"x":728,"y":239},{"k":1,"x":734,"y":249},{"k":1,"x":740,"y":240},{"k":1,"x":746,"y":248},{"k":1,"x":752,"y":239},{"k":1,"x":758,"y":251},{"k":1,"x":764,"y":240},{"k":1,"x":770,"y":248},{"k":1,"x":776,"y":239},{"k":1,"x":782,"y":250},{"k":1,"x":788,"y":240},{"k":1,"x":794,"y":249},{"k":1,"x":800,"y":239},{"k":1,"x":806,"y":250},{"k":1,"x":812,"y":240},{"k":1,"x":818,"y":249},{"k":1,"x":824,"y":240},{"k":1,"x":830,"y":250},{"k":1,"x":835,"y":240},
{"k":2,"x":0,"y":205},{"k":2,"x":8,"y":207},{"k":2,"x":17,"y":203},{"k":2,"x":23,"y":206},{"k":2,"x":30,"y":207},{"k":2,"x":38,"y":204},{"k":2,"x":47,"y":208},{"k":2,"x":52,"y":205},{"k":2,"x":57,"y":210},{"k":2,"x":63,"y":207},{"k":2,"x":70,"y":213},{"k":2,"x":77,"y":220},{"k":2,"x":83,"y":210},{"k":2,"x":90,"y":213},{"k":2,"x":97,"y":207},{"k":2,"x":102,"y":215},{"k":2,"x":107,"y":212},{"k":2,"x":112,"y":210},{"k":2,"x":115,"y":227},{"k":2,"x":120,"y":213},{"k":2,"x":125,"y":218},{"k":2,"x":130,"y":217},{"k":2,"x":135,"y":212},{"k":2,"x":140,"y":213},{"k":2,"x":145,"y":208},{"k":2,"x":150,"y":210},{"k":2,"x":155,"y":215},{"k":2,"x":160,"y":210},{"k":2,"x":167,"y":203},{"k":2,"x":173,"y":212},{"k":2,"x":178,"y":217},{"k":2,"x":183,"y":215},{"k":2,"x":190,"y":210},{"k":2,"x":197,"y":212},{"k":2,"x":202,"y":216},{"k":2,"x":207,"y":210},{"k":2,"x":213,"y":213},{"k":2,"x":218,"y":208},{"k":2,"x":223,"y":223},{"k":2,"x":227,"y":213},{"k":2,"x":230,"y":210},{"k":2,"x":237,"y":215},{"k":2,"x":243,"y":215},{"k":2,"x":250,"y":208},{"k":2,"x":255,"y":213},{"k":2,"x":260,"y":210},{"k":2,"x":265,"y":213},{"k":2,"x":270,"y":212},{"k":2,"x":272,"y":224},{"k":2,"x":277,"y":210},{"k":2,"x":283,"y":207},{"k":2,"x":297,"y":207},{"k":2,"x":298,"y":213},{"k":2,"x":301,"y":207},{"k":2,"x":327,"y":207},{"k":2,"x":330,"y":222},{"k":2,"x":335,"y":210},{"k":2,"x":340,"y":217},{"k":2,"x":345,"y":212},{"k":2,"x":350,"y":208},{"k":2,"x":353,"y":217},{"k":2,"x":357,"y":210},{"k":2,"x":363,"y":208},{"k":2,"x":368,"y":215},{"k":2,"x":373,"y":213},{"k":2,"x":378,"y":208},{"k":2,"x":383,"y":210},{"k":2,"x":397,"y":213},{"k":2,"x":405,"y":208},{"k":2,"x":413,"y":210},{"k":2,"x":422,"y":215},{"k":2,"x":430,"y":217},{"k":2,"x":438,"y":210},{"k":2,"x":447,"y":207},{"k":2,"x":457,"y":203},{"k":2,"x":462,"y":225},{"k":2,"x":467,"y":217},{"k":2,"x":473,"y":213},{"k":2,"x":480,"y":212},{"k":2,"x":488,"y":210},{"k":2,"x":497,"y":210},{"k":2,"x":505,"y":208},{"k":2,"x":513,"y":207},{"k":2,"x":523,"y":204},{"k":2,"x":528,"y":213},{"k":2,"x":532,"y":232},{"k":2,"x":535,"y":212},{"k":2,"x":540,"y":220},{"k":2,"x":547,"y":212},{"k":2,"x":553,"y":204},{"k":2,"x":559,"y":214},{"k":2,"x":565,"y":205},{"k":2,"x":571,"y":215},{"k":2,"x":577,"y":204},{"k":2,"x":583,"y":214},{"k":2,"x":589,"y":205},{"k":2,"x":595,"y":216},{"k":2,"x":601,"y":204},{"k":2,"x":607,"y":214},{"k":2,"x":613,"y":205},{"k":2,"x":619,"y":215},{"k":2,"x":625,"y":204},{"k":2,"x":631,"y":214},{"k":2,"x":637,"y":206},{"k":2,"x":643,"y":216},{"k":2,"x":649,"y":204},{"k":2,"x":655,"y":214},{"k":2,"x":661,"y":205},{"k":2,"x":667,"y":215},{"k":2,"x":673,"y":204},{"k":2,"x":679,"y":213},{"k":2,"x":685,"y":205},{"k":2,"x":691,"y":215},{"k":2,"x":697,"y":204},{"k":2,"x":703,"y":214},{"k":2,"x":709,"y":206},{"k":2,"x":715,"y":215},{"k":2,"x":721,"y":204},{"k":2,"x":727,"y":214},{"k":2,"x":733,"y":205},{"k":2,"x":739,"y":213},{"k":2,"x":745,"y":204},{"k":2,"x":751,"y":214},{"k":2,"x":757,"y":206},{"k":2,"x":763,"y":215},{"k":2,"x":769,"y":204},{"k":2,"x":775,"y":213},{"k":2,"x":781,"y":205},{"k":2,"x":787,"y":216},{"k":2,"x":793,"y":204},{"k":2,"x":799,"y":214},{"k":2,"x":805,"y":205},{"k":2,"x":811,"y":213},{"k":2,"x":817,"y":204},{"k":2,"x":823,"y":214},{"k":2,"x":829,"y":205},{"k":2,"x":835,"y":212},
{"k":3,"x":0,"y":183},{"k":3,"x":10,"y":184},{"k":3,"x":20,"y":183},{"k":3,"x":30,"y":184},{"k":3,"x":40,"y":183},{"k":3,"x":50,"y":185},{"k":3,"x":60,"y":183},{"k":3,"x":65,"y":187},{"k":3,"x":70,"y":192},{"k":3,"x":75,"y":187},{"k":3,"x":80,"y":188},{"k":3,"x":85,"y":186},{"k":3,"x":90,"y":187},{"k":3,"x":97,"y":190},{"k":3,"x":103,"y":190},{"k":3,"x":108,"y":187},{"k":3,"x":113,"y":193},{"k":3,"x":117,"y":185},{"k":3,"x":123,"y":190},{"k":3,"x":130,"y":188},{"k":3,"x":137,"y":192},{"k":3,"x":143,"y":190},{"k":3,"x":150,"y":187},{"k":3,"x":157,"y":185},{"k":3,"x":163,"y":190},{"k":3,"x":170,"y":195},{"k":3,"x":177,"y":189},{"k":3,"x":183,"y":192},{"k":3,"x":190,"y":189},{"k":3,"x":197,"y":190},{"k":3,"x":203,"y":193},{"k":3,"x":210,"y":192},{"k":3,"x":217,"y":195},{"k":3,"x":223,"y":193},{"k":3,"x":228,"y":189},{"k":3,"x":233,"y":198},{"k":3,"x":237,"y":188},{"k":3,"x":242,"y":193},{"k":3,"x":247,"y":187},{"k":3,"x":252,"y":192},{"k":3,"x":257,"y":190},{"k":3,"x":263,"y":193},{"k":3,"x":270,"y":197},{"k":3,"x":277,"y":185},{"k":3,"x":283,"y":183},{"k":3,"x":297,"y":183},{"k":3,"x":298,"y":190},{"k":3,"x":302,"y":183},{"k":3,"x":327,"y":183},{"k":3,"x":330,"y":190},{"k":3,"x":338,"y":182},{"k":3,"x":343,"y":197},{"k":3,"x":350,"y":178},{"k":3,"x":357,"y":195},{"k":3,"x":363,"y":177},{"k":3,"x":370,"y":190},{"k":3,"x":377,"y":183},{"k":3,"x":383,"y":195},{"k":3,"x":390,"y":187},{"k":3,"x":397,"y":183},{"k":3,"x":405,"y":188},{"k":3,"x":413,"y":185},{"k":3,"x":422,"y":187},{"k":3,"x":430,"y":183},{"k":3,"x":438,"y":187},{"k":3,"x":447,"y":184},{"k":3,"x":453,"y":187},{"k":3,"x":460,"y":178},{"k":3,"x":467,"y":186},{"k":3,"x":473,"y":185},{"k":3,"x":480,"y":184},{"k":3,"x":488,"y":186},{"k":3,"x":497,"y":183},{"k":3,"x":503,"y":184},{"k":3,"x":510,"y":178},{"k":3,"x":517,"y":173},{"k":3,"x":523,"y":178},{"k":3,"x":533,"y":180},{"k":3,"x":540,"y":183},{"k":3,"x":547,"y":182},{"k":3,"x":553,"y":173},{"k":3,"x":560,"y":185},{"k":3,"x":566,"y":174},{"k":3,"x":572,"y":186},{"k":3,"x":578,"y":174},{"k":3,"x":584,"y":187},{"k":3,"x":590,"y":173},{"k":3,"x":596,"y":186},{"k":3,"x":602,"y":175},{"k":3,"x":608,"y":188},{"k":3,"x":614,"y":174},{"k":3,"x":620,"y":186},{"k":3,"x":626,"y":173},{"k":3,"x":632,"y":187},{"k":3,"x":638,"y":175},{"k":3,"x":644,"y":186},{"k":3,"x":650,"y":174},{"k":3,"x":656,"y":188},{"k":3,"x":662,"y":173},{"k":3,"x":668,"y":186},{"k":3,"x":674,"y":175},{"k":3,"x":680,"y":187},{"k":3,"x":686,"y":174},{"k":3,"x":692,"y":189},{"k":3,"x":698,"y":173},{"k":3,"x":704,"y":186},{"k":3,"x":710,"y":175},{"k":3,"x":716,"y":188},{"k":3,"x":722,"y":174},{"k":3,"x":728,"y":190},{"k":3,"x":734,"y":173},{"k":3,"x":740,"y":188},{"k":3,"x":746,"y":174},{"k":3,"x":752,"y":190},{"k":3,"x":758,"y":173},{"k":3,"x":764,"y":195},{"k":3,"x":770,"y":173},{"k":3,"x":776,"y":197},{"k":3,"x":782,"y":174},{"k":3,"x":788,"y":194},{"k":3,"x":794,"y":173},{"k":3,"x":800,"y":196},{"k":3,"x":806,"y":174},{"k":3,"x":812,"y":195},{"k":3,"x":818,"y":173},{"k":3,"x":824,"y":194},{"k":3,"x":830,"y":174},{"k":3,"x":835,"y":186},
{"k":4,"x":0,"y":150},{"k":4,"x":8,"y":148},{"k":4,"x":17,"y":148},{"k":4,"x":23,"y":151},{"k":4,"x":30,"y":151},{"k":4,"x":37,"y":147},{"k":4,"x":43,"y":147},{"k":4,"x":50,"y":149},{"k":4,"x":57,"y":148},{"k":4,"x":63,"y":153},{"k":4,"x":70,"y":151},{"k":4,"x":75,"y":155},{"k":4,"x":80,"y":154},{"k":4,"x":87,"y":151},{"k":4,"x":97,"y":152},{"k":4,"x":103,"y":155},{"k":4,"x":110,"y":153},{"k":4,"x":117,"y":150},{"k":4,"x":123,"y":150},{"k":4,"x":130,"y":153},{"k":4,"x":137,"y":153},{"k":4,"x":143,"y":155},{"k":4,"x":150,"y":158},{"k":4,"x":157,"y":147},{"k":4,"x":163,"y":150},{"k":4,"x":170,"y":153},{"k":4,"x":177,"y":153},{"k":4,"x":183,"y":157},{"k":4,"x":190,"y":150},{"k":4,"x":197,"y":160},{"k":4,"x":203,"y":148},{"k":4,"x":209,"y":161},{"k":4,"x":215,"y":147},{"k":4,"x":221,"y":160},{"k":4,"x":227,"y":148},{"k":4,"x":233,"y":162},{"k":4,"x":239,"y":147},{"k":4,"x":245,"y":160},{"k":4,"x":251,"y":148},{"k":4,"x":257,"y":161},{"k":4,"x":263,"y":149},{"k":4,"x":270,"y":157},{"k":4,"x":277,"y":142},{"k":4,"x":283,"y":137},{"k":4,"x":297,"y":137},{"k":4,"x":300,"y":143},{"k":4,"x":305,"y":137},{"k":4,"x":325,"y":137},{"k":4,"x":328,"y":148},{"k":4,"x":335,"y":143},{"k":4,"x":343,"y":152},{"k":4,"x":350,"y":148},{"k":4,"x":357,"y":153},{"k":4,"x":363,"y":147},{"k":4,"x":370,"y":152},{"k":4,"x":377,"y":153},{"k":4,"x":383,"y":160},{"k":4,"x":390,"y":152},{"k":4,"x":400,"y":140},{"k":4,"x":407,"y":145},{"k":4,"x":413,"y":147},{"k":4,"x":422,"y":142},{"k":4,"x":430,"y":142},{"k":4,"x":438,"y":147},{"k":4,"x":447,"y":145},{"k":4,"x":455,"y":140},{"k":4,"x":463,"y":140},{"k":4,"x":472,"y":145},{"k":4,"x":480,"y":147},{"k":4,"x":487,"y":143},{"k":4,"x":493,"y":148},{"k":4,"x":500,"y":143},{"k":4,"x":507,"y":143},{"k":4,"x":513,"y":153},{"k":4,"x":518,"y":167},{"k":4,"x":523,"y":150},{"k":4,"x":530,"y":142},{"k":4,"x":537,"y":145},{"k":4,"x":543,"y":143},{"k":4,"x":550,"y":148},{"k":4,"x":557,"y":143},{"k":4,"x":563,"y":149},{"k":4,"x":569,"y":141},{"k":4,"x":575,"y":150},{"k":4,"x":581,"y":140},{"k":4,"x":587,"y":149},{"k":4,"x":593,"y":141},{"k":4,"x":599,"y":150},{"k":4,"x":605,"y":140},{"k":4,"x":611,"y":148},{"k":4,"x":617,"y":141},{"k":4,"x":623,"y":150},{"k":4,"x":629,"y":140},{"k":4,"x":635,"y":149},{"k":4,"x":641,"y":141},{"k":4,"x":647,"y":150},{"k":4,"x":653,"y":140},{"k":4,"x":659,"y":148},{"k":4,"x":665,"y":141},{"k":4,"x":671,"y":150},{"k":4,"x":677,"y":140},{"k":4,"x":683,"y":149},{"k":4,"x":689,"y":141},{"k":4,"x":695,"y":150},{"k":4,"x":701,"y":140},{"k":4,"x":707,"y":151},{"k":4,"x":713,"y":139},{"k":4,"x":719,"y":150},{"k":4,"x":725,"y":140},{"k":4,"x":731,"y":152},{"k":4,"x":737,"y":139},{"k":4,"x":743,"y":151},{"k":4,"x":749,"y":138},{"k":4,"x":755,"y":152},{"k":4,"x":761,"y":139},{"k":4,"x":767,"y":151},{"k":4,"x":773,"y":138},{"k":4,"x":779,"y":152},{"k":4,"x":785,"y":139},{"k":4,"x":791,"y":151},{"k":4,"x":797,"y":138},{"k":4,"x":803,"y":152},{"k":4,"x":809,"y":139},{"k":4,"x":815,"y":151},{"k":4,"x":821,"y":138},{"k":4,"x":827,"y":152},{"k":4,"x":833,"y":139},{"k":4,"x":835,"y":145},
{"k":5,"x":0,"y":108},{"k":5,"x":10,"y":107},{"k":5,"x":20,"y":108},{"k":5,"x":30,"y":107},{"k":5,"x":40,"y":108},{"k":5,"x":50,"y":108},{"k":5,"x":57,"y":108},{"k":5,"x":60,"y":117},{"k":5,"x":63,"y":113},{"k":5,"x":67,"y":120},{"k":5,"x":70,"y":115},{"k":5,"x":73,"y":118},{"k":5,"x":78,"y":113},{"k":5,"x":83,"y":112},{"k":5,"x":90,"y":113},{"k":5,"x":97,"y":110},{"k":5,"x":105,"y":113},{"k":5,"x":113,"y":112},{"k":5,"x":122,"y":110},{"k":5,"x":130,"y":110},{"k":5,"x":137,"y":113},{"k":5,"x":143,"y":113},{"k":5,"x":150,"y":110},{"k":5,"x":157,"y":111},{"k":5,"x":163,"y":112},{"k":5,"x":170,"y":115},{"k":5,"x":177,"y":117},{"k":5,"x":182,"y":123},{"k":5,"x":187,"y":128},{"k":5,"x":193,"y":112},{"k":5,"x":199,"y":127},{"k":5,"x":205,"y":110},{"k":5,"x":211,"y":128},{"k":5,"x":217,"y":111},{"k":5,"x":223,"y":126},{"k":5,"x":229,"y":110},{"k":5,"x":235,"y":128},{"k":5,"x":241,"y":112},{"k":5,"x":247,"y":127},{"k":5,"x":253,"y":110},{"k":5,"x":259,"y":126},{"k":5,"x":265,"y":112},{"k":5,"x":277,"y":110},{"k":5,"x":283,"y":108},{"k":5,"x":297,"y":108},{"k":5,"x":298,"y":113},{"k":5,"x":302,"y":108},{"k":5,"x":327,"y":108},{"k":5,"x":330,"y":118},{"k":5,"x":337,"y":110},{"k":5,"x":343,"y":128},{"k":5,"x":350,"y":113},{"k":5,"x":357,"y":128},{"k":5,"x":363,"y":108},{"k":5,"x":370,"y":130},{"k":5,"x":377,"y":123},{"k":5,"x":383,"y":117},{"k":5,"x":390,"y":120},{"k":5,"x":393,"y":118},{"k":5,"x":403,"y":110},{"k":5,"x":413,"y":120},{"k":5,"x":423,"y":110},{"k":5,"x":437,"y":120},{"k":5,"x":447,"y":110},{"k":5,"x":457,"y":123},{"k":5,"x":467,"y":120},{"k":5,"x":480,"y":122},{"k":5,"x":497,"y":118},{"k":5,"x":507,"y":115},{"k":5,"x":513,"y":110},{"k":5,"x":520,"y":120},{"k":5,"x":530,"y":113},{"k":5,"x":540,"y":120},{"k":5,"x":550,"y":110},{"k":5,"x":557,"y":113},{"k":5,"x":563,"y":123},{"k":5,"x":569,"y":109},{"k":5,"x":575,"y":122},{"k":5,"x":581,"y":108},{"k":5,"x":587,"y":123},{"k":5,"x":593,"y":110},{"k":5,"x":599,"y":122},{"k":5,"x":605,"y":108},{"k":5,"x":611,"y":123},{"k":5,"x":617,"y":109},{"k":5,"x":623,"y":122},{"k":5,"x":629,"y":108},{"k":5,"x":635,"y":123},{"k":5,"x":641,"y":110},{"k":5,"x":647,"y":122},{"k":5,"x":653,"y":108},{"k":5,"x":659,"y":123},{"k":5,"x":665,"y":109},{"k":5,"x":671,"y":121},{"k":5,"x":677,"y":108},{"k":5,"x":683,"y":123},{"k":5,"x":689,"y":110},{"k":5,"x":695,"y":122},{"k":5,"x":701,"y":108},{"k":5,"x":707,"y":121},{"k":5,"x":713,"y":109},{"k":5,"x":719,"y":123},{"k":5,"x":725,"y":108},{"k":5,"x":731,"y":122},{"k":5,"x":737,"y":110},{"k":5,"x":743,"y":121},{"k":5,"x":749,"y":108},{"k":5,"x":755,"y":123},{"k":5,"x":761,"y":109},{"k":5,"x":767,"y":122},{"k":5,"x":773,"y":108},{"k":5,"x":779,"y":121},{"k":5,"x":785,"y":110},{"k":5,"x":791,"y":123},{"k":5,"x":797,"y":108},{"k":5,"x":803,"y":122},{"k":5,"x":809,"y":109},{"k":5,"x":815,"y":121},{"k":5,"x":821,"y":108},{"k":5,"x":827,"y":123},{"k":5,"x":833,"y":109},{"k":5,"x":835,"y":112}
],
"b1e": [
{"x":0,"h":95,"l":45},{"x":3,"h":86,"l":52},{"x":6,"h":97,"l":43},{"x":9,"h":84,"l":55},{"x":12,"h":96,"l":44},{"x":15,"h":88,"l":50},{"x":18,"h":97,"l":43},{"x":21,"h":85,"l":54},{"x":24,"h":95,"l":46},{"x":27,"h":90,"l":48},{"x":30,"h":97,"l":43},{"x":33,"h":84,"l":55},{"x":36,"h":96,"l":44},{"x":39,"h":87,"l":51},{"x":42,"h":97,"l":44},{"x":45,"h":85,"l":54},{"x":48,"h":95,"l":45},{"x":51,"h":89,"l":49},{"x":54,"h":97,"l":43},{"x":57,"h":84,"l":55},{"x":60,"h":94,"l":46},{"x":63,"h":88,"l":50},{"x":66,"h":93,"l":47},{"x":69,"h":85,"l":53},{"x":72,"h":92,"l":50},{"x":75,"h":82,"l":56},{"x":78,"h":90,"l":52},{"x":82,"h":80,"l":58},{"x":86,"h":92,"l":55},{"x":90,"h":79,"l":60},{"x":94,"h":88,"l":57},{"x":98,"h":80,"l":60},{"x":102,"h":85,"l":58},{"x":106,"h":78,"l":62},{"x":110,"h":90,"l":56},{"x":114,"h":79,"l":61},{"x":118,"h":84,"l":59},{"x":122,"h":78,"l":62},{"x":126,"h":88,"l":57},{"x":130,"h":79,"l":61},{"x":135,"h":82,"l":60},{"x":140,"h":78,"l":63},{"x":145,"h":85,"l":58},{"x":150,"h":78,"l":63},{"x":155,"h":81,"l":62},{"x":160,"h":77,"l":64},{"x":165,"h":83,"l":60},{"x":170,"h":77,"l":64},{"x":177,"h":80,"l":62},{"x":184,"h":76,"l":64},{"x":191,"h":79,"l":63},{"x":198,"h":76,"l":65},{"x":205,"h":78,"l":62},{"x":212,"h":76,"l":65},{"x":219,"h":79,"l":64},{"x":226,"h":76,"l":65},{"x":233,"h":78,"l":63},{"x":240,"h":76,"l":65},{"x":247,"h":77,"l":64},{"x":254,"h":75,"l":65},{"x":261,"h":78,"l":63},{"x":268,"h":76,"l":65},{"x":275,"h":77,"l":64},{"x":282,"h":75,"l":66},{"x":289,"h":76,"l":64},{"x":296,"h":75,"l":66},{"x":303,"h":77,"l":64},{"x":310,"h":75,"l":66},{"x":317,"h":76,"l":65},{"x":324,"h":75,"l":66},{"x":331,"h":77,"l":64},{"x":338,"h":75,"l":66},{"x":345,"h":76,"l":65},{"x":352,"h":75,"l":66},{"x":359,"h":76,"l":64},{"x":366,"h":75,"l":66},{"x":373,"h":76,"l":65},{"x":380,"h":75,"l":66},{"x":387,"h":77,"l":64},{"x":394,"h":76,"l":65},{"x":398,"h":82,"l":62},{"x":401,"h":76,"l":65},{"x":408,"h":77,"l":64},{"x":415,"h":76,"l":65},{"x":422,"h":78,"l":63},{"x":429,"h":76,"l":65},{"x":436,"h":77,"l":64},{"x":443,"h":76,"l":65},{"x":450,"h":78,"l":62},{"x":457,"h":77,"l":63},{"x":460,"h":82,"l":60},{"x":464,"h":77,"l":64},{"x":471,"h":76,"l":65},{"x":478,"h":77,"l":64},{"x":485,"h":76,"l":65},{"x":492,"h":78,"l":63},{"x":499,"h":76,"l":65},{"x":506,"h":77,"l":64},{"x":513,"h":76,"l":65},{"x":520,"h":77,"l":64},{"x":527,"h":76,"l":65},{"x":534,"h":77,"l":63},{"x":541,"h":76,"l":65},{"x":548,"h":78,"l":62},{"x":552,"h":82,"l":58},{"x":556,"h":84,"l":56},{"x":560,"h":87,"l":52},{"x":564,"h":85,"l":55},{"x":568,"h":83,"l":57},{"x":572,"h":80,"l":59},{"x":576,"h":77,"l":63},{"x":583,"h":76,"l":65},{"x":590,"h":77,"l":64},{"x":597,"h":76,"l":65},{"x":604,"h":77,"l":63},{"x":611,"h":76,"l":65},{"x":618,"h":77,"l":64},{"x":625,"h":76,"l":65},{"x":632,"h":77,"l":64},{"x":639,"h":76,"l":65},{"x":646,"h":77,"l":64},{"x":653,"h":76,"l":65},{"x":660,"h":77,"l":64},{"x":667,"h":76,"l":65},{"x":674,"h":77,"l":64},{"x":681,"h":76,"l":65},{"x":688,"h":77,"l":64},{"x":695,"h":76,"l":65},{"x":702,"h":77,"l":64},{"x":709,"h":76,"l":64},{"x":716,"h":77,"l":65},{"x":723,"h":76,"l":64},{"x":730,"h":77,"l":64},{"x":737,"h":76,"l":65},{"x":744,"h":77,"l":64},{"x":751,"h":76,"l":65},{"x":758,"h":77,"l":64},{"x":765,"h":76,"l":64},{"x":772,"h":77,"l":65},{"x":779,"h":76,"l":64},{"x":786,"h":77,"l":64},{"x":793,"h":76,"l":65},{"x":800,"h":77,"l":64},{"x":807,"h":76,"l":64},{"x":814,"h":77,"l":65},{"x":821,"h":76,"l":64},{"x":828,"h":77,"l":64},{"x":835,"h":76,"l":65}
],
"b2": [
{"k":1,"x":0,"y":257},{"k":1,"x":10,"y":253},{"k":1,"x":23,"y":258},{"k":1,"x":37,"y":260},{"k":1,"x":47,"y":258},{"k":1,"x":57,"y":253},{"k":1,"x":67,"y":248},{"k":1,"x":73,"y":252},{"k":1,"x":83,"y":253},{"k":1,"x":93,"y":260},{"k":1,"x":100,"y":263},{"k":1,"x":110,"y":262},{"k":1,"x":117,"y":257},{"k":1,"x":127,"y":253},{"k":1,"x":137,"y":252},{"k":1,"x":143,"y":251},{"k":1,"x":150,"y":258},{"k":1,"x":157,"y":262},{"k":1,"x":167,"y":265},{"k":1,"x":177,"y":262},{"k":1,"x":187,"y":257},{"k":1,"x":197,"y":252},{"k":1,"x":203,"y":255},{"k":1,"x":213,"y":258},{"k":1,"x":220,"y":263},{"k":1,"x":230,"y":267},{"k":1,"x":240,"y":265},{"k":1,"x":250,"y":262},{"k":1,"x":263,"y":257},{"k":1,"x":270,"y":248},{"k":1,"x":277,"y":253},{"k":1,"x":283,"y":248},{"k":1,"x":290,"y":257},{"k":1,"x":297,"y":265},{"k":1,"x":303,"y":268},{"k":1,"x":312,"y":272},{"k":1,"x":320,"y":265},{"k":1,"x":330,"y":267},{"k":1,"x":340,"y":262},{"k":1,"x":350,"y":257},{"k":1,"x":357,"y":255},{"k":1,"x":363,"y":258},{"k":1,"x":373,"y":253},{"k":1,"x":383,"y":257},{"k":1,"x":390,"y":250},{"k":1,"x":393,"y":250},{"k":1,"x":407,"y":247},{"k":1,"x":420,"y":243},{"k":1,"x":433,"y":240},{"k":1,"x":447,"y":237},{"k":1,"x":457,"y":237},{"k":1,"x":467,"y":235},{"k":1,"x":487,"y":233},{"k":1,"x":490,"y":235},{"k":1,"x":513,"y":235},{"k":1,"x":547,"y":236},{"k":1,"x":550,"y":237},{"k":1,"x":553,"y":235},{"k":1,"x":580,"y":235},{"k":1,"x":613,"y":236},{"k":1,"x":647,"y":234},{"k":1,"x":680,"y":234},{"k":1,"x":697,"y":233},{"k":1,"x":701,"y":241},{"k":1,"x":710,"y":237},{"k":1,"x":720,"y":235},{"k":1,"x":730,"y":236},{"k":1,"x":747,"y":236},{"k":1,"x":755,"y":237},{"k":1,"x":762,"y":253},{"k":1,"x":767,"y":248},{"k":1,"x":777,"y":242},{"k":1,"x":785,"y":238},{"k":1,"x":793,"y":247},{"k":1,"x":803,"y":242},{"k":1,"x":817,"y":236},{"k":1,"x":823,"y":245},{"k":1,"x":828,"y":248},{"k":1,"x":835,"y":245},
{"k":2,"x":0,"y":212},{"k":2,"x":13,"y":210},{"k":2,"x":27,"y":212},{"k":2,"x":40,"y":210},{"k":2,"x":53,"y":205},{"k":2,"x":67,"y":201},{"k":2,"x":77,"y":205},{"k":2,"x":85,"y":213},{"k":2,"x":88,"y":207},{"k":2,"x":93,"y":217},{"k":2,"x":100,"y":213},{"k":2,"x":110,"y":216},{"k":2,"x":123,"y":210},{"k":2,"x":137,"y":208},{"k":2,"x":150,"y":205},{"k":2,"x":163,"y":210},{"k":2,"x":167,"y":202},{"k":2,"x":170,"y":208},{"k":2,"x":183,"y":208},{"k":2,"x":197,"y":213},{"k":2,"x":207,"y":208},{"k":2,"x":217,"y":210},{"k":2,"x":230,"y":212},{"k":2,"x":243,"y":215},{"k":2,"x":253,"y":210},{"k":2,"x":263,"y":213},{"k":2,"x":270,"y":205},{"k":2,"x":277,"y":211},{"k":2,"x":283,"y":205},{"k":2,"x":290,"y":210},{"k":2,"x":297,"y":215},{"k":2,"x":307,"y":215},{"k":2,"x":317,"y":218},{"k":2,"x":327,"y":223},{"k":2,"x":333,"y":218},{"k":2,"x":343,"y":220},{"k":2,"x":357,"y":220},{"k":2,"x":363,"y":237},{"k":2,"x":370,"y":238},{"k":2,"x":380,"y":235},{"k":2,"x":390,"y":231},{"k":2,"x":400,"y":223},{"k":2,"x":407,"y":225},{"k":2,"x":417,"y":222},{"k":2,"x":427,"y":222},{"k":2,"x":428,"y":223},{"k":2,"x":433,"y":218},{"k":2,"x":447,"y":213},{"k":2,"x":463,"y":210},{"k":2,"x":480,"y":207},{"k":2,"x":513,"y":207},{"k":2,"x":547,"y":206},{"k":2,"x":580,"y":206},{"k":2,"x":613,"y":206},{"k":2,"x":647,"y":205},{"k":2,"x":680,"y":204},{"k":2,"x":698,"y":203},{"k":2,"x":702,"y":210},{"k":2,"x":710,"y":210},{"k":2,"x":720,"y":206},{"k":2,"x":740,"y":205},{"k":2,"x":757,"y":205},{"k":2,"x":763,"y":220},{"k":2,"x":770,"y":215},{"k":2,"x":780,"y":208},{"k":2,"x":787,"y":207},{"k":2,"x":792,"y":220},{"k":2,"x":800,"y":212},{"k":2,"x":813,"y":208},{"k":2,"x":820,"y":207},{"k":2,"x":828,"y":218},{"k":2,"x":835,"y":215},
{"k":3,"x":0,"y":180},{"k":3,"x":8,"y":177},{"k":3,"x":15,"y":165},{"k":3,"x":23,"y":177},{"k":3,"x":37,"y":182},{"k":3,"x":50,"y":180},{"k":3,"x":63,"y":175},{"k":3,"x":77,"y":173},{"k":3,"x":87,"y":172},{"k":3,"x":93,"y":177},{"k":3,"x":97,"y":163},{"k":3,"x":102,"y":177},{"k":3,"x":110,"y":183},{"k":3,"x":123,"y":180},{"k":3,"x":137,"y":177},{"k":3,"x":150,"y":175},{"k":3,"x":160,"y":177},{"k":3,"x":165,"y":165},{"k":3,"x":168,"y":177},{"k":3,"x":172,"y":167},{"k":3,"x":177,"y":180},{"k":3,"x":190,"y":180},{"k":3,"x":203,"y":173},{"k":3,"x":210,"y":167},{"k":3,"x":215,"y":165},{"k":3,"x":220,"y":175},{"k":3,"x":230,"y":180},{"k":3,"x":243,"y":188},{"k":3,"x":253,"y":183},{"k":3,"x":263,"y":180},{"k":3,"x":277,"y":175},{"k":3,"x":283,"y":177},{"k":3,"x":290,"y":172},{"k":3,"x":297,"y":167},{"k":3,"x":303,"y":175},{"k":3,"x":317,"y":187},{"k":3,"x":323,"y":200},{"k":3,"x":330,"y":195},{"k":3,"x":337,"y":200},{"k":3,"x":347,"y":193},{"k":3,"x":357,"y":195},{"k":3,"x":370,"y":192},{"k":3,"x":380,"y":188},{"k":3,"x":390,"y":185},{"k":3,"x":393,"y":184},{"k":3,"x":407,"y":182},{"k":3,"x":413,"y":177},{"k":3,"x":430,"y":178},{"k":3,"x":447,"y":175},{"k":3,"x":480,"y":173},{"k":3,"x":513,"y":173},{"k":3,"x":547,"y":173},{"k":3,"x":580,"y":173},{"k":3,"x":613,"y":173},{"k":3,"x":647,"y":173},{"k":3,"x":680,"y":173},{"k":3,"x":700,"y":171},{"k":3,"x":702,"y":177},{"k":3,"x":713,"y":175},{"k":3,"x":730,"y":173},{"k":3,"x":753,"y":172},{"k":3,"x":763,"y":190},{"k":3,"x":770,"y":183},{"k":3,"x":780,"y":175},{"k":3,"x":787,"y":173},{"k":3,"x":792,"y":180},{"k":3,"x":797,"y":172},{"k":3,"x":813,"y":168},{"k":3,"x":823,"y":163},{"k":3,"x":830,"y":172},{"k":3,"x":835,"y":173},
{"k":4,"x":0,"y":143},{"k":4,"x":13,"y":140},{"k":4,"x":27,"y":143},{"k":4,"x":40,"y":148},{"k":4,"x":50,"y":148},{"k":4,"x":60,"y":143},{"k":4,"x":73,"y":140},{"k":4,"x":87,"y":137},{"k":4,"x":93,"y":132},{"k":4,"x":100,"y":138},{"k":4,"x":110,"y":143},{"k":4,"x":123,"y":147},{"k":4,"x":137,"y":143},{"k":4,"x":150,"y":142},{"k":4,"x":163,"y":137},{"k":4,"x":173,"y":142},{"k":4,"x":187,"y":147},{"k":4,"x":197,"y":143},{"k":4,"x":207,"y":138},{"k":4,"x":217,"y":135},{"k":4,"x":227,"y":143},{"k":4,"x":240,"y":148},{"k":4,"x":253,"y":150},{"k":4,"x":267,"y":147},{"k":4,"x":280,"y":142},{"k":4,"x":290,"y":137},{"k":4,"x":297,"y":132},{"k":4,"x":303,"y":137},{"k":4,"x":310,"y":147},{"k":4,"x":313,"y":162},{"k":4,"x":318,"y":153},{"k":4,"x":330,"y":147},{"k":4,"x":343,"y":143},{"k":4,"x":357,"y":143},{"k":4,"x":363,"y":137},{"k":4,"x":373,"y":133},{"k":4,"x":390,"y":130},{"k":4,"x":397,"y":128},{"k":4,"x":413,"y":127},{"k":4,"x":447,"y":127},{"k":4,"x":480,"y":125},{"k":4,"x":513,"y":124},{"k":4,"x":547,"y":123},{"k":4,"x":580,"y":123},{"k":4,"x":613,"y":123},{"k":4,"x":647,"y":123},{"k":4,"x":680,"y":123},{"k":4,"x":700,"y":123},{"k":4,"x":702,"y":127},{"k":4,"x":713,"y":125},{"k":4,"x":747,"y":124},{"k":4,"x":780,"y":123},{"k":4,"x":797,"y":127},{"k":4,"x":807,"y":132},{"k":4,"x":813,"y":136},{"k":4,"x":827,"y":135},{"k":4,"x":835,"y":137},
{"k":5,"x":0,"y":122},{"k":5,"x":8,"y":110},{"k":5,"x":15,"y":97},{"k":5,"x":23,"y":118},{"k":5,"x":37,"y":122},{"k":5,"x":50,"y":123},{"k":5,"x":63,"y":120},{"k":5,"x":77,"y":110},{"k":5,"x":87,"y":103},{"k":5,"x":93,"y":107},{"k":5,"x":97,"y":95},{"k":5,"x":103,"y":110},{"k":5,"x":113,"y":117},{"k":5,"x":123,"y":118},{"k":5,"x":137,"y":122},{"k":5,"x":150,"y":125},{"k":5,"x":160,"y":128},{"k":5,"x":165,"y":113},{"k":5,"x":170,"y":105},{"k":5,"x":177,"y":120},{"k":5,"x":187,"y":117},{"k":5,"x":197,"y":118},{"k":5,"x":207,"y":108},{"k":5,"x":215,"y":97},{"k":5,"x":220,"y":108},{"k":5,"x":223,"y":103},{"k":5,"x":230,"y":120},{"k":5,"x":240,"y":127},{"k":5,"x":250,"y":128},{"k":5,"x":260,"y":123},{"k":5,"x":270,"y":120},{"k":5,"x":283,"y":110},{"k":5,"x":293,"y":108},{"k":5,"x":297,"y":97},{"k":5,"x":302,"y":110},{"k":5,"x":310,"y":117},{"k":5,"x":317,"y":120},{"k":5,"x":323,"y":123},{"k":5,"x":330,"y":115},{"k":5,"x":343,"y":113},{"k":5,"x":357,"y":108},{"k":5,"x":367,"y":105},{"k":5,"x":377,"y":108},{"k":5,"x":390,"y":110},{"k":5,"x":397,"y":103},{"k":5,"x":413,"y":98},{"k":5,"x":423,"y":100},{"k":5,"x":447,"y":95},{"k":5,"x":480,"y":93},{"k":5,"x":513,"y":93},{"k":5,"x":547,"y":93},{"k":5,"x":580,"y":95},{"k":5,"x":613,"y":93},{"k":5,"x":647,"y":91},{"k":5,"x":680,"y":92},{"k":5,"x":697,"y":93},{"k":5,"x":702,"y":102},{"k":5,"x":713,"y":97},{"k":5,"x":730,"y":95},{"k":5,"x":747,"y":93},{"k":5,"x":757,"y":93},{"k":5,"x":760,"y":110},{"k":5,"x":767,"y":103},{"k":5,"x":777,"y":93},{"k":5,"x":785,"y":92},{"k":5,"x":790,"y":110},{"k":5,"x":800,"y":98},{"k":5,"x":813,"y":93},{"k":5,"x":823,"y":94},{"k":5,"x":828,"y":99},{"k":5,"x":835,"y":100}
],
"b2e": [
{"x":0,"h":70,"l":51},{"x":6,"h":68,"l":53},{"x":12,"h":70,"l":52},{"x":18,"h":69,"l":53},{"x":24,"h":71,"l":51},{"x":30,"h":68,"l":53},{"x":36,"h":70,"l":52},{"x":42,"h":69,"l":53},{"x":48,"h":71,"l":51},{"x":54,"h":69,"l":53},{"x":60,"h":70,"l":52},{"x":66,"h":68,"l":53},{"x":72,"h":71,"l":45},{"x":75,"h":72,"l":40},{"x":78,"h":70,"l":52},{"x":84,"h":78,"l":32},{"x":87,"h":71,"l":45},{"x":90,"h":69,"l":51},{"x":96,"h":70,"l":53},{"x":102,"h":68,"l":52},{"x":108,"h":71,"l":51},{"x":114,"h":69,"l":53},{"x":120,"h":70,"l":52},{"x":126,"h":68,"l":53},{"x":132,"h":70,"l":51},{"x":138,"h":69,"l":53},{"x":144,"h":71,"l":52},{"x":150,"h":69,"l":53},{"x":156,"h":70,"l":51},{"x":162,"h":71,"l":46},{"x":165,"h":70,"l":42},{"x":168,"h":69,"l":53},{"x":174,"h":70,"l":52},{"x":180,"h":68,"l":53},{"x":186,"h":71,"l":51},{"x":192,"h":69,"l":53},{"x":198,"h":70,"l":52},{"x":204,"h":74,"l":48},{"x":207,"h":70,"l":53},{"x":213,"h":69,"l":52},{"x":219,"h":71,"l":51},{"x":225,"h":69,"l":53},{"x":231,"h":70,"l":52},{"x":237,"h":68,"l":53},{"x":243,"h":71,"l":51},{"x":249,"h":69,"l":53},{"x":255,"h":70,"l":52},{"x":261,"h":68,"l":53},{"x":267,"h":70,"l":51},{"x":273,"h":69,"l":53},{"x":279,"h":71,"l":52},{"x":285,"h":70,"l":51},{"x":287,"h":72,"l":33},{"x":289,"h":70,"l":51},{"x":295,"h":69,"l":53},{"x":301,"h":70,"l":52},{"x":307,"h":68,"l":53},{"x":313,"h":71,"l":51},{"x":319,"h":69,"l":53},{"x":325,"h":70,"l":52},{"x":331,"h":68,"l":53},{"x":337,"h":71,"l":51},{"x":343,"h":69,"l":53},{"x":349,"h":70,"l":52},{"x":355,"h":68,"l":53},{"x":361,"h":71,"l":51},{"x":367,"h":73,"l":52},{"x":373,"h":69,"l":53},{"x":379,"h":70,"l":52},{"x":385,"h":68,"l":53},{"x":391,"h":70,"l":51},{"x":397,"h":69,"l":53},{"x":403,"h":71,"l":52},{"x":409,"h":70,"l":47},{"x":413,"h":69,"l":53},{"x":419,"h":70,"l":51},{"x":425,"h":68,"l":53},{"x":431,"h":70,"l":52},{"x":437,"h":69,"l":53},{"x":443,"h":71,"l":51},{"x":449,"h":69,"l":53},{"x":455,"h":70,"l":52},{"x":461,"h":68,"l":53},{"x":467,"h":70,"l":51},{"x":473,"h":69,"l":53},{"x":479,"h":71,"l":52},{"x":485,"h":69,"l":53},{"x":491,"h":70,"l":51},{"x":497,"h":68,"l":53},{"x":503,"h":70,"l":52},{"x":509,"h":69,"l":53},{"x":515,"h":71,"l":51},{"x":521,"h":69,"l":53},{"x":527,"h":70,"l":52},{"x":533,"h":68,"l":53},{"x":539,"h":70,"l":51},{"x":545,"h":69,"l":53},{"x":551,"h":71,"l":52},{"x":557,"h":69,"l":53},{"x":563,"h":70,"l":51},{"x":569,"h":68,"l":53},{"x":575,"h":70,"l":52},{"x":581,"h":69,"l":53},{"x":587,"h":71,"l":51},{"x":593,"h":69,"l":53},{"x":599,"h":70,"l":52},{"x":605,"h":68,"l":53},{"x":611,"h":70,"l":51},{"x":617,"h":69,"l":53},{"x":623,"h":70,"l":52},{"x":629,"h":68,"l":53},{"x":635,"h":70,"l":51},{"x":641,"h":69,"l":53},{"x":647,"h":70,"l":52},{"x":653,"h":68,"l":53},{"x":659,"h":70,"l":51},{"x":665,"h":69,"l":53},{"x":671,"h":70,"l":52},{"x":677,"h":68,"l":53},{"x":683,"h":70,"l":51},{"x":689,"h":69,"l":53},{"x":695,"h":70,"l":52},{"x":698,"h":70,"l":53},{"x":700,"h":87,"l":32},{"x":702,"h":70,"l":53},{"x":708,"h":69,"l":52},{"x":714,"h":70,"l":51},{"x":720,"h":68,"l":53},{"x":726,"h":70,"l":52},{"x":732,"h":69,"l":53},{"x":738,"h":70,"l":51},{"x":744,"h":68,"l":53},{"x":750,"h":70,"l":52},{"x":755,"h":72,"l":45},{"x":758,"h":74,"l":42},{"x":762,"h":73,"l":44},{"x":765,"h":74,"l":40},{"x":768,"h":71,"l":50},{"x":774,"h":70,"l":52},{"x":780,"h":69,"l":53},{"x":786,"h":71,"l":48},{"x":790,"h":72,"l":44},{"x":793,"h":70,"l":52},{"x":799,"h":69,"l":53},{"x":805,"h":70,"l":51},{"x":811,"h":68,"l":53},{"x":817,"h":70,"l":52},{"x":821,"h":70,"l":53},{"x":823,"h":80,"l":32},{"x":825,"h":70,"l":53},{"x":829,"h":69,"l":52},{"x":835,"h":70,"l":51}
],
"c": [
{"t":-0.8,"m":0.00025,"lo":0.00025,"hi":0.00025},
{"t":8,"m":0.00499,"lo":0.00125,"hi":0.00877},
{"t":12,"m":0.0012,"lo":0.00059,"hi":0.00187},
{"t":16,"m":0.00072,"lo":0.0006,"hi":0.00085},
{"t":20,"m":0.00133,"lo":0.0007,"hi":0.00194},
{"t":24,"m":0.00059,"lo":0.0005,"hi":0.0007},
{"t":28,"m":0.00075,"lo":0.00065,"hi":0.00085},
{"t":32,"m":0.00136,"lo":0.00097,"hi":0.00174},
{"t":36,"m":0.00064,"lo":0.00055,"hi":0.00075},
{"t":40,"m":0.00092,"lo":0.0008,"hi":0.00104},
{"t":44,"m":0.00108,"lo":0.00095,"hi":0.0012},
{"t":48,"m":0.00141,"lo":0.0011,"hi":0.00172},
{"t":52,"m":0.00153,"lo":0.00062,"hi":0.00243},
{"t":56,"m":0.00215,"lo":0.00087,"hi":0.00343},
{"t":60,"m":0.00376,"lo":0.00227,"hi":0.00524}
]
},
"vconcat": [
{
"width": 835, "height": 300,
"layer": [
{"data":{"name":"a1"},"mark":{"type":"line","color":"#4ea24e","strokeWidth":1},"encoding":{"x":{"field":"x","type":"quantitative","scale":{"domain":[0,835],"nice":false,"zero":false},"axis":null},"y":{"field":"y","type":"quantitative","scale":{"domain":[0,300],"nice":false,"zero":false},"axis":null},"detail":{"field":"k","type":"nominal"}}},
{"data":{"name":"a1e"},"mark":{"type":"area","color":"#3a3a3a"},"encoding":{"x":{"field":"x","type":"quantitative","axis":null},"y":{"field":"h","type":"quantitative","axis":null},"y2":{"field":"l"}}},
{"data":{"values":[{}]},"mark":{"type":"rect","fillOpacity":0,"stroke":"#111111","strokeWidth":2.5,"strokeDash":[6,4]},"encoding":{"x":{"datum":367,"axis":null},"x2":{"datum":415},"y":{"datum":52,"axis":null},"y2":{"datum":243}}},
{"data":{"values":[{}]},"mark":{"type":"rule","color":"#111111","strokeWidth":2.5},"encoding":{"x":{"datum":367,"axis":null},"y":{"datum":52,"axis":null},"x2":{"datum":2},"y2":{"datum":3}}},
{"data":{"values":[{}]},"mark":{"type":"rule","color":"#111111","strokeWidth":2.5},"encoding":{"x":{"datum":415,"axis":null},"y":{"datum":52,"axis":null},"x2":{"datum":835},"y2":{"datum":3}}},
{"data":{"values":[{}]},"mark":{"type":"rule","color":"#111111","strokeWidth":3},"encoding":{"x":{"datum":746,"axis":null},"x2":{"datum":825},"y":{"datum":32,"axis":null}}},
{"data":{"values":[{}]},"mark":{"type":"text","text":"5min","fontSize":27,"align":"center","baseline":"alphabetic","color":"#111111"},"encoding":{"x":{"datum":785,"axis":null},"y":{"datum":35,"axis":null}}},
{"data":{"values":[{}]},"mark":{"type":"text","text":"A","fontSize":36,"fontWeight":"bold","align":"left","baseline":"alphabetic","color":"#111111"},"encoding":{"x":{"datum":-57,"axis":null},"y":{"datum":257,"axis":null}}},
{"data":{"values":[{}]},"mark":{"type":"text","text":"Seizures spread into the RTN during SE","fontSize":30.5,"fontWeight":"bold","align":"center","baseline":"alphabetic","color":"#111111"},"encoding":{"x":{"datum":418,"axis":null},"y":{"datum":263,"axis":null}}},
{"data":{"values":[{}]},"mark":{"type":"text","text":"GCaMP","fontSize":30,"angle":270,"align":"center","baseline":"middle","color":"#111111"},"encoding":{"x":{"datum":-46,"axis":null},"y":{"datum":179,"axis":null}}},
{"data":{"values":[{}]},"mark":{"type":"text","text":"Fluor","fontSize":30,"angle":270,"align":"center","baseline":"middle","color":"#111111"},"encoding":{"x":{"datum":-18,"axis":null},"y":{"datum":184,"axis":null}}},
{"data":{"values":[{}]},"mark":{"type":"text","text":"EEG","fontSize":30,"angle":270,"align":"center","baseline":"middle","color":"#111111"},"encoding":{"x":{"datum":-21,"axis":null},"y":{"datum":73,"axis":null}}}
]
},
{
"width": 835, "height": 300,
"layer": [
{"data":{"name":"a2"},"mark":{"type":"line","color":"#3f9a3f","strokeWidth":1.2},"encoding":{"x":{"field":"x","type":"quantitative","scale":{"domain":[0,835],"nice":false,"zero":false},"axis":null},"y":{"field":"y","type":"quantitative","scale":{"domain":[0,300],"nice":false,"zero":false},"axis":null},"detail":{"field":"k","type":"nominal"}}},
{"data":{"name":"a2e"},"mark":{"type":"area","color":"#3a3a3a"},"encoding":{"x":{"field":"x","type":"quantitative","axis":null},"y":{"field":"h","type":"quantitative","axis":null},"y2":{"field":"l"}}},
{"data":{"values":[{}]},"mark":{"type":"rule","color":"#111111","strokeWidth":3},"encoding":{"x":{"datum":686,"axis":null},"x2":{"datum":826},"y":{"datum":26,"axis":null}}},
{"data":{"values":[{}]},"mark":{"type":"text","text":"30sec","fontSize":27,"align":"center","baseline":"alphabetic","color":"#111111"},"encoding":{"x":{"datum":756,"axis":null},"y":{"datum":31,"axis":null}}},
{"data":{"values":[{}]},"mark":{"type":"text","text":"GCaMP","fontSize":30,"angle":270,"align":"center","baseline":"middle","color":"#111111"},"encoding":{"x":{"datum":-46,"axis":null},"y":{"datum":202,"axis":null}}},
{"data":{"values":[{}]},"mark":{"type":"text","text":"Fluor","fontSize":30,"angle":270,"align":"center","baseline":"middle","color":"#111111"},"encoding":{"x":{"datum":-17,"axis":null},"y":{"datum":204,"axis":null}}},
{"data":{"values":[{}]},"mark":{"type":"text","text":"EEG","fontSize":30,"angle":270,"align":"center","baseline":"middle","color":"#111111"},"encoding":{"x":{"datum":-21,"axis":null},"y":{"datum":63,"axis":null}}}
]
},
{
"width": 835, "height": 310,
"layer": [
{"data":{"name":"b1"},"mark":{"type":"line","color":"#f06a3a","strokeWidth":1.1},"encoding":{"x":{"field":"x","type":"quantitative","scale":{"domain":[0,835],"nice":false,"zero":false},"axis":null},"y":{"field":"y","type":"quantitative","scale":{"domain":[0,310],"nice":false,"zero":false},"axis":null},"detail":{"field":"k","type":"nominal"}}},
{"data":{"name":"b1e"},"mark":{"type":"area","color":"#454545"},"encoding":{"x":{"field":"x","type":"quantitative","axis":null},"y":{"field":"h","type":"quantitative","axis":null},"y2":{"field":"l"}}},
{"data":{"values":[{}]},"mark":{"type":"rect","fillOpacity":0,"stroke":"#111111","strokeWidth":2.5,"strokeDash":[6,4]},"encoding":{"x":{"datum":247,"axis":null},"x2":{"datum":303},"y":{"datum":43,"axis":null},"y2":{"datum":272}}},
{"data":{"values":[{}]},"mark":{"type":"rule","color":"#111111","strokeWidth":2.5},"encoding":{"x":{"datum":247,"axis":null},"y":{"datum":43,"axis":null},"x2":{"datum":2},"y2":{"datum":5}}},
{"data":{"values":[{}]},"mark":{"type":"rule","color":"#111111","strokeWidth":2.5},"encoding":{"x":{"datum":303,"axis":null},"y":{"datum":44,"axis":null},"x2":{"datum":837},"y2":{"datum":4}}},
{"data":{"values":[{}]},"mark":{"type":"rule","color":"#111111","strokeWidth":3},"encoding":{"x":{"datum":734,"axis":null},"x2":{"datum":827},"y":{"datum":29,"axis":null}}},
{"data":{"values":[{}]},"mark":{"type":"text","text":"5min","fontSize":27,"align":"center","baseline":"alphabetic","color":"#111111"},"encoding":{"x":{"datum":780,"axis":null},"y":{"datum":36,"axis":null}}},
{"data":{"values":[{}]},"mark":{"type":"text","text":"B","fontSize":36,"fontWeight":"bold","align":"left","baseline":"alphabetic","color":"#111111"},"encoding":{"x":{"datum":-55,"axis":null},"y":{"datum":275,"axis":null}}},
{"data":{"values":[{}]},"mark":{"type":"text","text":"Seizures spread into the RVLM during SE","fontSize":30.5,"fontWeight":"bold","align":"center","baseline":"alphabetic","color":"#111111"},"encoding":{"x":{"datum":418,"axis":null},"y":{"datum":282,"axis":null}}},
{"data":{"values":[{}]},"mark":{"type":"text","text":"GCaMP","fontSize":30,"angle":270,"align":"center","baseline":"middle","color":"#111111"},"encoding":{"x":{"datum":-45,"axis":null},"y":{"datum":197,"axis":null}}},
{"data":{"values":[{}]},"mark":{"type":"text","text":"Fluor","fontSize":30,"angle":270,"align":"center","baseline":"middle","color":"#111111"},"encoding":{"x":{"datum":-18,"axis":null},"y":{"datum":198,"axis":null}}},
{"data":{"values":[{}]},"mark":{"type":"text","text":"EEG","fontSize":30,"angle":270,"align":"center","baseline":"middle","color":"#111111"},"encoding":{"x":{"datum":-21,"axis":null},"y":{"datum":90,"axis":null}}}
]
},
{
"width": 835, "height": 270,
"layer": [
{"data":{"name":"b2"},"mark":{"type":"line","color":"#f06a3a","strokeWidth":1.2},"encoding":{"x":{"field":"x","type":"quantitative","scale":{"domain":[0,835],"nice":false,"zero":false},"axis":null},"y":{"field":"y","type":"quantitative","scale":{"domain":[0,270],"nice":false,"zero":false},"axis":null},"detail":{"field":"k","type":"nominal"}}},
{"data":{"name":"b2e"},"mark":{"type":"area","color":"#4a4a4a"},"encoding":{"x":{"field":"x","type":"quantitative","axis":null},"y":{"field":"h","type":"quantitative","axis":null},"y2":{"field":"l"}}},
{"data":{"values":[{}]},"mark":{"type":"rule","color":"#111111","strokeWidth":3},"encoding":{"x":{"datum":689,"axis":null},"x2":{"datum":828},"y":{"datum":17,"axis":null}}},
{"data":{"values":[{}]},"mark":{"type":"text","text":"30sec","fontSize":27,"align":"center","baseline":"alphabetic","color":"#111111"},"encoding":{"x":{"datum":758,"axis":null},"y":{"datum":23,"axis":null}}},
{"data":{"values":[{}]},"mark":{"type":"text","text":"GCaMP","fontSize":30,"angle":270,"align":"center","baseline":"middle","color":"#111111"},"encoding":{"x":{"datum":-46,"axis":null},"y":{"datum":190,"axis":null}}},
{"data":{"values":[{}]},"mark":{"type":"text","text":"Fluor","fontSize":30,"angle":270,"align":"center","baseline":"middle","color":"#111111"},"encoding":{"x":{"datum":-18,"axis":null},"y":{"datum":192,"axis":null}}},
{"data":{"values":[{}]},"mark":{"type":"text","text":"EEG","fontSize":30,"angle":270,"align":"center","baseline":"middle","color":"#111111"},"encoding":{"x":{"datum":-21,"axis":null},"y":{"datum":48,"axis":null}}}
]
},
{
"width": 835, "height": 304,
"layer": [
{"data":{"values":[{}]},"mark":{"type":"rule","color":"#111111","strokeWidth":2,"strokeDash":[4,3]},"encoding":{"x":{"datum":18.96},"y":{"datum":0},"y2":{"datum":0.00532}}},
{"data":{"name":"c"},"mark":{"type":"line","color":"#111111","strokeWidth":2.5},"encoding":{
"x":{"field":"t","type":"quantitative","scale":{"domain":[0,60],"range":[16,830],"nice":false,"zero":false},"axis":{"values":[0,2,4,6,8,10,12,14,16,18,20,22,24,26,28,30,32,34,36,38,40,42,44,46,48,50,52,54,56,58,60],"labelExpr":"datum.value == 20 || datum.value == 40 || datum.value == 60 ? datum.label : ''","labelFlush":false,"labelOverlap":false,"tickSize":6,"tickWidth":2.5,"tickColor":"#111111","domainColor":"#111111","domainWidth":2.5,"labelFontSize":21,"labelColor":"#111111","labelPadding":8,"title":null,"grid":false,"offset":-52}},
"y":{"field":"m","type":"quantitative","scale":{"domain":[0,0.01],"range":[252,49],"nice":false,"zero":false},"axis":{"values":[0,0.002,0.004,0.006,0.008,0.01],"labels":false,"tickSize":10,"tickWidth":2.5,"tickColor":"#111111","domainColor":"#111111","domainWidth":2.5,"title":null,"grid":false,"offset":-16}}}},
{"data":{"name":"c"},"mark":{"type":"rule","color":"#111111","strokeWidth":2.5},"encoding":{"x":{"field":"t","type":"quantitative"},"y":{"field":"lo","type":"quantitative"},"y2":{"field":"hi"}}},
{"data":{"name":"c"},"mark":{"type":"tick","orient":"horizontal","size":9,"thickness":2.5,"color":"#111111","opacity":1},"encoding":{"x":{"field":"t","type":"quantitative"},"y":{"field":"lo","type":"quantitative"}}},
{"data":{"name":"c"},"mark":{"type":"tick","orient":"horizontal","size":9,"thickness":2.5,"color":"#111111","opacity":1},"encoding":{"x":{"field":"t","type":"quantitative"},"y":{"field":"hi","type":"quantitative"}}},
{"data":{"name":"c"},"mark":{"type":"point","filled":true,"size":230,"color":"#6b8ccb","opacity":1},"encoding":{"x":{"field":"t","type":"quantitative"},"y":{"field":"m","type":"quantitative"}}},
{"data":{"values":[{}]},"mark":{"type":"rule","color":"#111111","strokeWidth":1.5},"encoding":{"x":{"datum":17.1},"x2":{"datum":20.8},"y":{"datum":0.00261}}},
{"data":{"values":[{}]},"mark":{"type":"rule","color":"#111111","strokeWidth":1.5},"encoding":{"x":{"datum":17.1},"y":{"datum":0.00233},"y2":{"datum":0.00289}}},
{"data":{"values":[{}]},"mark":{"type":"rule","color":"#111111","strokeWidth":1.5},"encoding":{"x":{"datum":20.8},"y":{"datum":0.00233},"y2":{"datum":0.00289}}},
{"data":{"values":[{}]},"mark":{"type":"rule","color":"#111111","strokeWidth":2.5},"encoding":{"x":{"datum":18.96},"y":{"datum":0.00719},"y2":{"datum":0.0066}}},
{"data":{"values":[{}]},"mark":{"type":"point","shape":"triangle-down","filled":true,"size":260,"color":"#111111","opacity":1},"encoding":{"x":{"datum":18.96},"y":{"datum":0.00635}}},
{"data":{"values":[{}]},"mark":{"type":"point","shape":"triangle-up","filled":true,"size":110,"color":"#111111","opacity":1},"encoding":{"x":{"datum":-0.69},"y":{"datum":-0.00054}}},
{"data":{"values":[{}]},"mark":{"type":"rule","color":"#111111","strokeWidth":2},"encoding":{"x":{"datum":-0.69},"y":{"datum":-0.0008},"y2":{"datum":-0.00125}}},
{"data":{"values":[{}]},"mark":{"type":"text","text":"Start of change","fontSize":21,"align":"center","baseline":"middle","color":"#111111"},"encoding":{"x":{"datum":18.8},"y":{"datum":0.0101}}},
{"data":{"values":[{}]},"mark":{"type":"text","text":"in neuronal activity","fontSize":21,"align":"center","baseline":"middle","color":"#111111"},"encoding":{"x":{"datum":18.8},"y":{"datum":0.00892}}},
{"data":{"values":[{}]},"mark":{"type":"text","text":"Mean ± SEM","fontSize":21,"align":"center","baseline":"middle","color":"#111111"},"encoding":{"x":{"datum":18.85},"y":{"datum":0.00778}}},
{"data":{"values":[{}]},"mark":{"type":"text","text":"Pre-SE","fontSize":21,"align":"center","baseline":"alphabetic","color":"#111111"},"encoding":{"x":{"datum":-0.66},"y":{"datum":-0.00202}}},
{"data":{"values":[{}]},"mark":{"type":"text","text":"Time after SE","fontSize":20.5,"align":"center","baseline":"alphabetic","color":"#111111"},"encoding":{"x":{"datum":29.7},"y":{"datum":-0.00123}}},
{"data":{"values":[{}]},"mark":{"type":"text","text":"induction (min)","fontSize":20.5,"align":"center","baseline":"alphabetic","color":"#111111"},"encoding":{"x":{"datum":29.95},"y":{"datum":-0.00227}}},
{"data":{"values":[{}]},"mark":{"type":"text","text":"EEG Δ25-45Hz","fontSize":21,"angle":270,"align":"center","baseline":"middle","color":"#111111"},"encoding":{"x":{"datum":-4.57},"y":{"datum":0.00483}}},
{"data":{"values":[{}]},"mark":{"type":"text","text":"(AUC) (V²)","fontSize":20,"angle":270,"align":"center","baseline":"middle","color":"#111111"},"encoding":{"x":{"datum":-3.25},"y":{"datum":0.00498}}},
{"data":{"values":[{}]},"mark":{"type":"text","text":"0.01","fontSize":21,"align":"right","baseline":"middle","color":"#111111"},"encoding":{"x":{"datum":-1.33},"y":{"datum":0.01}}},
{"data":{"values":[{}]},"mark":{"type":"text","text":"0","fontSize":21,"align":"right","baseline":"middle","color":"#111111"},"encoding":{"x":{"datum":-2.06},"y":{"datum":-0.00015}}},
{"data":{"values":[{}]},"mark":{"type":"text","text":"C","fontSize":33,"fontWeight":"bold","align":"left","baseline":"alphabetic","color":"#111111"},"encoding":{"x":{"datum":-5.38},"y":{"datum":0.01103}}}
]
}
]
}
